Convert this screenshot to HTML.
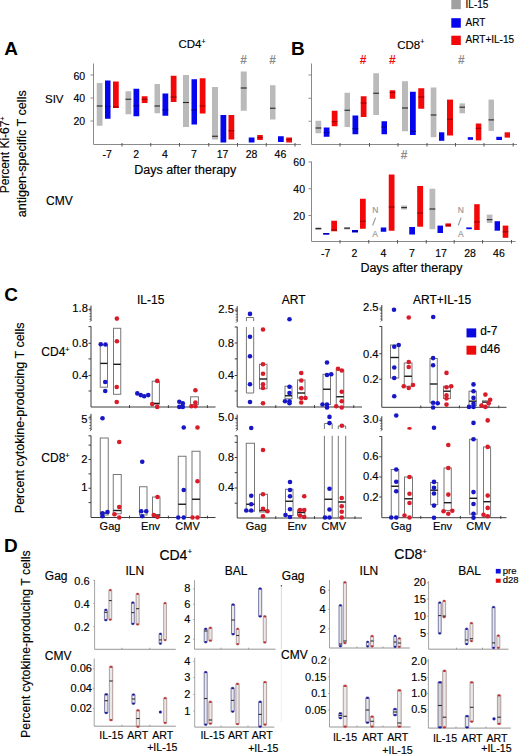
<!DOCTYPE html>
<html><head><meta charset="utf-8"><style>
html,body{margin:0;padding:0;background:#fff;}
body{width:520px;height:754px;overflow:hidden;}
svg{display:block;font-family:"Liberation Sans", sans-serif;}
</style></head><body>
<svg width="520" height="754" viewBox="0 0 520 754">
<text x="4.3" y="54.6" font-size="19" fill="#000" font-weight="bold">A</text>
<text x="290.9" y="54.6" font-size="19" fill="#000" font-weight="bold">B</text>
<text x="4.2" y="301.2" font-size="19" fill="#000" font-weight="bold">C</text>
<text x="4" y="552.2" font-size="19" fill="#000" font-weight="bold">D</text>
<rect x="96.75" y="83" width="5.75" height="42.75" fill="#bababa"/>
<rect x="96.75" y="105.45" width="5.75" height="1.1" fill="#262626"/>
<rect x="105" y="80.5" width="5.5" height="38.25" fill="#0505ee"/>
<rect x="105" y="105.95" width="5.5" height="1.1" fill="#00009a"/>
<rect x="113" y="81.5" width="5.75" height="26.5" fill="#f20808"/>
<rect x="113" y="106.45" width="5.75" height="1.1" fill="#9a0000"/>
<rect x="125.5" y="91.25" width="5.75" height="23" fill="#bababa"/>
<rect x="125.5" y="98.7" width="5.75" height="1.1" fill="#262626"/>
<rect x="133.5" y="88.75" width="5.75" height="27.5" fill="#0505ee"/>
<rect x="133.5" y="105.2" width="5.75" height="1.1" fill="#00009a"/>
<rect x="141.75" y="96.25" width="5.75" height="6.75" fill="#f20808"/>
<rect x="141.75" y="98.7" width="5.75" height="1.1" fill="#9a0000"/>
<rect x="154.5" y="84" width="5.5" height="29.25" fill="#bababa"/>
<rect x="154.5" y="105.45" width="5.5" height="1.1" fill="#262626"/>
<rect x="162.5" y="93.5" width="5.75" height="22.25" fill="#0505ee"/>
<rect x="162.5" y="109.45" width="5.75" height="1.1" fill="#00009a"/>
<rect x="170.75" y="75.75" width="5.75" height="26.25" fill="#f20808"/>
<rect x="170.75" y="96.45" width="5.75" height="1.1" fill="#9a0000"/>
<rect x="183" y="75" width="6" height="52" fill="#bababa"/>
<rect x="183" y="101.95" width="6" height="1.1" fill="#262626"/>
<rect x="191.5" y="79.25" width="5.5" height="45.25" fill="#0505ee"/>
<rect x="191.5" y="109.45" width="5.5" height="1.1" fill="#00009a"/>
<rect x="199.75" y="78.25" width="5.75" height="35.25" fill="#f20808"/>
<rect x="199.75" y="105.45" width="5.75" height="1.1" fill="#9a0000"/>
<rect x="212" y="87" width="6" height="52.5" fill="#bababa"/>
<rect x="212" y="135.7" width="6" height="1.1" fill="#262626"/>
<rect x="220.5" y="115" width="5.75" height="27.5" fill="#0505ee"/>
<rect x="228.5" y="115" width="5.75" height="24.5" fill="#f20808"/>
<rect x="228.5" y="130.2" width="5.75" height="1.1" fill="#9a0000"/>
<rect x="240.75" y="71.5" width="6" height="39.25" fill="#bababa"/>
<rect x="240.75" y="87.45" width="6" height="1.1" fill="#262626"/>
<rect x="248.75" y="137.5" width="5.75" height="5" fill="#0505ee"/>
<rect x="257.25" y="135" width="5.5" height="5" fill="#f20808"/>
<rect x="257.25" y="136.95" width="5.5" height="1.1" fill="#9a0000"/>
<rect x="270" y="85.25" width="5.5" height="34.25" fill="#bababa"/>
<rect x="270" y="107.7" width="5.5" height="1.1" fill="#262626"/>
<rect x="278" y="136.25" width="5.75" height="5.75" fill="#0505ee"/>
<rect x="286.25" y="137.5" width="5.75" height="5" fill="#f20808"/>
<rect x="286.25" y="138.95" width="5.75" height="1.1" fill="#9a0000"/>
<rect x="315.5" y="120.75" width="5.75" height="12.5" fill="#bababa"/>
<rect x="315.5" y="127.45" width="5.75" height="1.1" fill="#262626"/>
<rect x="323.75" y="127.5" width="5.75" height="9.25" fill="#0505ee"/>
<rect x="323.75" y="131.95" width="5.75" height="1.1" fill="#00009a"/>
<rect x="331.75" y="110.75" width="5.75" height="15.5" fill="#f20808"/>
<rect x="331.75" y="121.2" width="5.75" height="1.1" fill="#9a0000"/>
<rect x="344.5" y="92.75" width="5.5" height="34.25" fill="#bababa"/>
<rect x="344.5" y="109.7" width="5.5" height="1.1" fill="#262626"/>
<rect x="352.5" y="115.5" width="5.75" height="18.75" fill="#0505ee"/>
<rect x="352.5" y="128.2" width="5.75" height="1.1" fill="#00009a"/>
<rect x="360.75" y="96.25" width="5.75" height="20.75" fill="#f20808"/>
<rect x="360.75" y="102.45" width="5.75" height="1.1" fill="#9a0000"/>
<rect x="373.25" y="73.25" width="5.75" height="41.75" fill="#bababa"/>
<rect x="373.25" y="92.7" width="5.75" height="1.1" fill="#262626"/>
<rect x="381.5" y="121.25" width="5.5" height="13" fill="#0505ee"/>
<rect x="381.5" y="126.45" width="5.5" height="1.1" fill="#00009a"/>
<rect x="389.75" y="90.25" width="5.5" height="8.5" fill="#f20808"/>
<rect x="389.75" y="91.95" width="5.5" height="1.1" fill="#9a0000"/>
<rect x="402" y="81.25" width="6" height="50" fill="#bababa"/>
<rect x="402" y="107.45" width="6" height="1.1" fill="#262626"/>
<rect x="410" y="91.75" width="5.75" height="43.25" fill="#0505ee"/>
<rect x="410" y="130.7" width="5.75" height="1.1" fill="#00009a"/>
<rect x="418.25" y="88.25" width="6" height="20.5" fill="#f20808"/>
<rect x="418.25" y="96.45" width="6" height="1.1" fill="#9a0000"/>
<rect x="430.7" y="87.5" width="5.7" height="49.7" fill="#bababa"/>
<rect x="430.7" y="114.45" width="5.7" height="1.1" fill="#262626"/>
<rect x="439" y="132.3" width="5.3" height="8.5" fill="#0505ee"/>
<rect x="447" y="99.6" width="6" height="35.9" fill="#f20808"/>
<rect x="447" y="118.65" width="6" height="1.1" fill="#9a0000"/>
<rect x="459.5" y="103.4" width="5.5" height="9.9" fill="#bababa"/>
<rect x="459.5" y="106.65" width="5.5" height="1.1" fill="#262626"/>
<rect x="467.8" y="137.2" width="5.2" height="2.6" fill="#0505ee"/>
<rect x="475.8" y="123.5" width="5.5" height="16.9" fill="#f20808"/>
<rect x="475.8" y="127.75" width="5.5" height="1.1" fill="#9a0000"/>
<rect x="488.5" y="99.6" width="5.5" height="31.3" fill="#bababa"/>
<rect x="488.5" y="119.35" width="5.5" height="1.1" fill="#262626"/>
<rect x="496.3" y="136.8" width="5.7" height="3.2" fill="#0505ee"/>
<rect x="504.6" y="132.3" width="5.4" height="5.3" fill="#f20808"/>
<rect x="315.5" y="227.3" width="5.75" height="2.7" fill="#bababa"/>
<rect x="315.5" y="228.05" width="5.75" height="1.1" fill="#262626"/>
<rect x="323.25" y="233" width="6" height="1.6" fill="#0505ee"/>
<rect x="323.25" y="233.25" width="6" height="1.1" fill="#00009a"/>
<rect x="331.25" y="220.75" width="5.75" height="10.5" fill="#f20808"/>
<rect x="331.25" y="229.45" width="5.75" height="1.1" fill="#9a0000"/>
<rect x="344.25" y="227" width="5.75" height="2.5" fill="#bababa"/>
<rect x="344.25" y="227.65" width="5.75" height="1.1" fill="#262626"/>
<rect x="352" y="230" width="6" height="2.5" fill="#0505ee"/>
<rect x="352" y="230.75" width="6" height="1.1" fill="#00009a"/>
<rect x="360" y="198.75" width="5.75" height="30" fill="#f20808"/>
<rect x="360" y="220.7" width="5.75" height="1.1" fill="#9a0000"/>
<rect x="380.75" y="227.5" width="5.5" height="4.25" fill="#0505ee"/>
<rect x="388.75" y="174.5" width="5.75" height="56.25" fill="#f20808"/>
<rect x="388.75" y="206.45" width="5.75" height="1.1" fill="#9a0000"/>
<rect x="401.25" y="205.5" width="5.75" height="4" fill="#bababa"/>
<rect x="401.25" y="207.05" width="5.75" height="1.1" fill="#262626"/>
<rect x="409.25" y="227" width="5.75" height="7.5" fill="#0505ee"/>
<rect x="417.2" y="186" width="5.9" height="40.7" fill="#f20808"/>
<rect x="417.2" y="212.45" width="5.9" height="1.1" fill="#9a0000"/>
<rect x="429.5" y="188.7" width="5.8" height="40.5" fill="#bababa"/>
<rect x="429.5" y="208.45" width="5.8" height="1.1" fill="#262626"/>
<rect x="437.5" y="225.6" width="5.5" height="7.4" fill="#0505ee"/>
<rect x="445.5" y="223.4" width="5.5" height="3.3" fill="#f20808"/>
<rect x="445.5" y="224.65" width="5.5" height="1.1" fill="#9a0000"/>
<rect x="466.3" y="227.4" width="5.5" height="1.8" fill="#0505ee"/>
<rect x="474.2" y="204.2" width="5.5" height="25.8" fill="#f20808"/>
<rect x="474.2" y="221.35" width="5.5" height="1.1" fill="#9a0000"/>
<rect x="486.8" y="214.6" width="5.6" height="8.4" fill="#bababa"/>
<rect x="486.8" y="219.15" width="5.6" height="1.1" fill="#262626"/>
<rect x="494.6" y="221.2" width="5.4" height="9.5" fill="#0505ee"/>
<rect x="502.7" y="225.6" width="5.6" height="12.2" fill="#f20808"/>
<rect x="502.7" y="231.25" width="5.6" height="1.1" fill="#9a0000"/>
<line x1="93.5" y1="63.5" x2="93.5" y2="144.5" stroke="#8a8a8a" stroke-width="1"/>
<line x1="93.5" y1="144.5" x2="301" y2="144.5" stroke="#8a8a8a" stroke-width="1"/>
<line x1="90.5" y1="75" x2="93.5" y2="75" stroke="#8a8a8a" stroke-width="1"/>
<line x1="90.5" y1="98" x2="93.5" y2="98" stroke="#8a8a8a" stroke-width="1"/>
<line x1="90.5" y1="121" x2="93.5" y2="121" stroke="#8a8a8a" stroke-width="1"/>
<line x1="122" y1="143" x2="122" y2="146.5" stroke="#555" stroke-width="1"/>
<line x1="150.75" y1="143" x2="150.75" y2="146.5" stroke="#555" stroke-width="1"/>
<line x1="179.5" y1="143" x2="179.5" y2="146.5" stroke="#555" stroke-width="1"/>
<line x1="208.75" y1="143" x2="208.75" y2="146.5" stroke="#555" stroke-width="1"/>
<line x1="237.5" y1="143" x2="237.5" y2="146.5" stroke="#555" stroke-width="1"/>
<line x1="266.25" y1="143" x2="266.25" y2="146.5" stroke="#555" stroke-width="1"/>
<line x1="295" y1="143" x2="295" y2="146.5" stroke="#555" stroke-width="1"/>
<line x1="311.5" y1="63.5" x2="311.5" y2="144.5" stroke="#8a8a8a" stroke-width="1"/>
<line x1="311.5" y1="144.5" x2="517" y2="144.5" stroke="#8a8a8a" stroke-width="1"/>
<line x1="308.5" y1="75" x2="311.5" y2="75" stroke="#8a8a8a" stroke-width="1"/>
<line x1="308.5" y1="98.25" x2="311.5" y2="98.25" stroke="#8a8a8a" stroke-width="1"/>
<line x1="308.5" y1="121.25" x2="311.5" y2="121.25" stroke="#8a8a8a" stroke-width="1"/>
<line x1="340" y1="143" x2="340" y2="146.5" stroke="#555" stroke-width="1"/>
<line x1="369.5" y1="143" x2="369.5" y2="146.5" stroke="#555" stroke-width="1"/>
<line x1="398" y1="143" x2="398" y2="146.5" stroke="#555" stroke-width="1"/>
<line x1="427" y1="143" x2="427" y2="146.5" stroke="#555" stroke-width="1"/>
<line x1="455.5" y1="143" x2="455.5" y2="146.5" stroke="#555" stroke-width="1"/>
<line x1="484" y1="143" x2="484" y2="146.5" stroke="#555" stroke-width="1"/>
<line x1="513.2" y1="143" x2="513.2" y2="146.5" stroke="#555" stroke-width="1"/>
<line x1="311.5" y1="161.5" x2="311.5" y2="241.5" stroke="#8a8a8a" stroke-width="1"/>
<line x1="311.5" y1="241.5" x2="515.5" y2="241.5" stroke="#8a8a8a" stroke-width="1"/>
<line x1="308.5" y1="162" x2="311.5" y2="162" stroke="#8a8a8a" stroke-width="1"/>
<line x1="308.5" y1="188.75" x2="311.5" y2="188.75" stroke="#8a8a8a" stroke-width="1"/>
<line x1="308.5" y1="215.5" x2="311.5" y2="215.5" stroke="#8a8a8a" stroke-width="1"/>
<line x1="340" y1="240" x2="340" y2="243.5" stroke="#555" stroke-width="1"/>
<line x1="368.75" y1="240" x2="368.75" y2="243.5" stroke="#555" stroke-width="1"/>
<line x1="397.5" y1="240" x2="397.5" y2="243.5" stroke="#555" stroke-width="1"/>
<line x1="426.25" y1="240" x2="426.25" y2="243.5" stroke="#555" stroke-width="1"/>
<line x1="454.2" y1="240" x2="454.2" y2="243.5" stroke="#555" stroke-width="1"/>
<line x1="482.6" y1="240" x2="482.6" y2="243.5" stroke="#555" stroke-width="1"/>
<line x1="511.5" y1="240" x2="511.5" y2="243.5" stroke="#555" stroke-width="1"/>
<text x="85.2" y="79.6" font-size="10.5" fill="#000" stroke="#000" stroke-width="0.15" text-anchor="end">60</text>
<text x="85.2" y="102.3" font-size="10.5" fill="#000" stroke="#000" stroke-width="0.15" text-anchor="end">40</text>
<text x="85.2" y="125" font-size="10.5" fill="#000" stroke="#000" stroke-width="0.15" text-anchor="end">20</text>
<text x="305" y="166.3" font-size="10.5" fill="#000" stroke="#000" stroke-width="0.15" text-anchor="end">60</text>
<text x="305" y="193" font-size="10.5" fill="#000" stroke="#000" stroke-width="0.15" text-anchor="end">40</text>
<text x="305" y="219.6" font-size="10.5" fill="#000" stroke="#000" stroke-width="0.15" text-anchor="end">20</text>
<text x="107.2" y="157.6" font-size="10.5" fill="#000" stroke="#000" stroke-width="0.15" text-anchor="middle">-7</text>
<text x="136.2" y="157.6" font-size="10.5" fill="#000" stroke="#000" stroke-width="0.15" text-anchor="middle">2</text>
<text x="165" y="157.6" font-size="10.5" fill="#000" stroke="#000" stroke-width="0.15" text-anchor="middle">4</text>
<text x="193.8" y="157.6" font-size="10.5" fill="#000" stroke="#000" stroke-width="0.15" text-anchor="middle">7</text>
<text x="222.6" y="157.6" font-size="10.5" fill="#000" stroke="#000" stroke-width="0.15" text-anchor="middle">17</text>
<text x="251.6" y="157.6" font-size="10.5" fill="#000" stroke="#000" stroke-width="0.15" text-anchor="middle">28</text>
<text x="280.4" y="157.6" font-size="10.5" fill="#000" stroke="#000" stroke-width="0.15" text-anchor="middle">46</text>
<text x="325.6" y="256.8" font-size="10.5" fill="#000" stroke="#000" stroke-width="0.15" text-anchor="middle">-7</text>
<text x="354.4" y="256.8" font-size="10.5" fill="#000" stroke="#000" stroke-width="0.15" text-anchor="middle">2</text>
<text x="383.4" y="256.8" font-size="10.5" fill="#000" stroke="#000" stroke-width="0.15" text-anchor="middle">4</text>
<text x="411.9" y="256.8" font-size="10.5" fill="#000" stroke="#000" stroke-width="0.15" text-anchor="middle">7</text>
<text x="441" y="256.8" font-size="10.5" fill="#000" stroke="#000" stroke-width="0.15" text-anchor="middle">17</text>
<text x="470" y="256.8" font-size="10.5" fill="#000" stroke="#000" stroke-width="0.15" text-anchor="middle">28</text>
<text x="498.9" y="256.8" font-size="10.5" fill="#000" stroke="#000" stroke-width="0.15" text-anchor="middle">46</text>
<text x="134.2" y="173.8" font-size="12.5" fill="#000" stroke="#000" stroke-width="0.15">Days after therapy</text>
<text x="360.4" y="271.8" font-size="12.5" fill="#000" stroke="#000" stroke-width="0.15">Days after therapy</text>
<text x="178.4" y="48.1" font-size="11.5" fill="#000" stroke="#000" stroke-width="0.15">CD4<tspan font-size="7" dy="-4.2">+</tspan></text>
<text x="397.2" y="48.5" font-size="11.5" fill="#000" stroke="#000" stroke-width="0.15">CD8<tspan font-size="7" dy="-4.2">+</tspan></text>
<text x="45" y="102.7" font-size="11.5" fill="#000" stroke="#000" stroke-width="0.15">SIV</text>
<text x="46" y="204.6" font-size="12" fill="#000" stroke="#000" stroke-width="0.15">CMV</text>
<text x="243.6" y="63.6" font-size="12" fill="#8a8a8a" text-anchor="middle" font-weight="bold">#</text>
<text x="272.7" y="63.6" font-size="12" fill="#8a8a8a" text-anchor="middle" font-weight="bold">#</text>
<text x="363" y="63.5" font-size="12" fill="#f20808" text-anchor="middle" font-weight="bold">#</text>
<text x="392.3" y="63.5" font-size="12" fill="#f20808" text-anchor="middle" font-weight="bold">#</text>
<text x="461.3" y="63.5" font-size="12" fill="#8a8a8a" text-anchor="middle" font-weight="bold">#</text>
<text x="404.2" y="159.4" font-size="12" fill="#8a8a8a" text-anchor="middle" font-weight="bold">#</text>
<text x="375.2" y="212.6" font-size="8.5" fill="#969696" stroke="#969696" stroke-width="0.15" text-anchor="middle">N</text>
<line x1="375.6" y1="217.6" x2="372.6" y2="225.5" stroke="#969696" stroke-width="1.1"/>
<text x="375.2" y="236.6" font-size="8.5" fill="#969696" stroke="#969696" stroke-width="0.15" text-anchor="middle">A</text>
<text x="460.8" y="212.6" font-size="8.5" fill="#969696" stroke="#969696" stroke-width="0.15" text-anchor="middle">N</text>
<line x1="461.2" y1="217.6" x2="458.2" y2="225.5" stroke="#969696" stroke-width="1.1"/>
<text x="460.8" y="236.6" font-size="8.5" fill="#969696" stroke="#969696" stroke-width="0.15" text-anchor="middle">A</text>
<text transform="translate(9.2,193.3) rotate(-90)" font-size="12" fill="#000" stroke="#000" stroke-width="0.15">Percent Ki-67<tspan font-size="7" dy="-4.5">+</tspan></text>
<text transform="translate(25.8,217.2) rotate(-90)" font-size="12.6" fill="#000" stroke="#000" stroke-width="0.15">antigen-specific T cells</text>
<rect x="451.3" y="-1" width="9.5" height="10.2" fill="#a0a0a0"/>
<rect x="451.3" y="18.2" width="9.5" height="9.5" fill="#0505ee"/>
<rect x="451.3" y="35.7" width="9.5" height="9.3" fill="#f20808"/>
<text x="465.6" y="7.8" font-size="10" fill="#000" stroke="#000" stroke-width="0.15">IL-15</text>
<text x="465.6" y="25.5" font-size="10" fill="#000" stroke="#000" stroke-width="0.15">ART</text>
<text x="465.6" y="42.9" font-size="10" fill="#000" stroke="#000" stroke-width="0.15">ART+IL-15</text>
<line x1="91" y1="305.6" x2="91" y2="320.7" stroke="#3c3c3c" stroke-width="1"/>
<line x1="89.4" y1="308.1" x2="91" y2="308.1" stroke="#3c3c3c" stroke-width="0.7"/>
<line x1="89.4" y1="310.88" x2="91" y2="310.88" stroke="#3c3c3c" stroke-width="0.7"/>
<line x1="89.4" y1="313.65" x2="91" y2="313.65" stroke="#3c3c3c" stroke-width="0.7"/>
<line x1="89.4" y1="316.43" x2="91" y2="316.43" stroke="#3c3c3c" stroke-width="0.7"/>
<line x1="89.4" y1="319.2" x2="91" y2="319.2" stroke="#3c3c3c" stroke-width="0.7"/>
<line x1="89.8" y1="321.9" x2="91.6" y2="320.1" stroke="#3c3c3c" stroke-width="0.7"/>
<line x1="88.5" y1="309.6" x2="91" y2="309.6" stroke="#3c3c3c" stroke-width="1"/>
<line x1="91" y1="326.3" x2="91" y2="407" stroke="#3c3c3c" stroke-width="1"/>
<line x1="88.5" y1="326.6" x2="91" y2="326.6" stroke="#3c3c3c" stroke-width="1"/>
<line x1="91" y1="407" x2="215.5" y2="407" stroke="#3c3c3c" stroke-width="1"/>
<line x1="88.5" y1="343.3" x2="91" y2="343.3" stroke="#3c3c3c" stroke-width="1"/>
<line x1="88.5" y1="358.9" x2="91" y2="358.9" stroke="#3c3c3c" stroke-width="1"/>
<line x1="88.5" y1="375.6" x2="91" y2="375.6" stroke="#3c3c3c" stroke-width="1"/>
<line x1="88.5" y1="391" x2="91" y2="391" stroke="#3c3c3c" stroke-width="1"/>
<line x1="129.5" y1="405.2" x2="129.5" y2="408" stroke="#3c3c3c" stroke-width="1"/>
<line x1="168.4" y1="405.2" x2="168.4" y2="408" stroke="#3c3c3c" stroke-width="1"/>
<line x1="207.4" y1="405.2" x2="207.4" y2="408" stroke="#3c3c3c" stroke-width="1"/>
<text x="87.9" y="312" font-size="11.2" fill="#000" stroke="#000" stroke-width="0.15" text-anchor="end">1.8</text>
<text x="87.9" y="347" font-size="11.2" fill="#000" stroke="#000" stroke-width="0.15" text-anchor="end">0.8</text>
<text x="87.9" y="379.3" font-size="11.2" fill="#000" stroke="#000" stroke-width="0.15" text-anchor="end">0.4</text>
<rect x="100.25" y="345" width="7.25" height="42.2" fill="none" stroke="#777777" stroke-width="1"/>
<line x1="100.25" y1="363.4" x2="107.5" y2="363.4" stroke="#1a1a1a" stroke-width="1.4"/>
<circle cx="100.75" cy="344.25" r="2.3" fill="#1717c6"/>
<circle cx="105.5" cy="344.5" r="2.3" fill="#1717c6"/>
<circle cx="105.25" cy="382" r="2.3" fill="#1717c6"/>
<circle cx="105.25" cy="391" r="2.3" fill="#1717c6"/>
<rect x="113.5" y="328.3" width="7.25" height="66" fill="none" stroke="#777777" stroke-width="1"/>
<line x1="113.5" y1="364.3" x2="120.75" y2="364.3" stroke="#1a1a1a" stroke-width="1.4"/>
<circle cx="116.9" cy="318.6" r="2.3" fill="#d81c2a"/>
<circle cx="116.9" cy="341.3" r="2.3" fill="#d81c2a"/>
<circle cx="116.75" cy="387" r="2.3" fill="#d81c2a"/>
<circle cx="116.75" cy="402" r="2.3" fill="#d81c2a"/>
<circle cx="137.3" cy="393.4" r="2.3" fill="#1717c6"/>
<circle cx="140.7" cy="395.1" r="2.3" fill="#1717c6"/>
<circle cx="144.2" cy="396.3" r="2.3" fill="#1717c6"/>
<circle cx="148.2" cy="395.1" r="2.3" fill="#1717c6"/>
<rect x="152.2" y="381.2" width="7.2" height="22.9" fill="none" stroke="#777777" stroke-width="1"/>
<line x1="152.2" y1="403.4" x2="159.4" y2="403.4" stroke="#1a1a1a" stroke-width="1.4"/>
<circle cx="157.2" cy="380.9" r="2.3" fill="#d81c2a"/>
<circle cx="152.2" cy="404.1" r="2.3" fill="#d81c2a"/>
<circle cx="157.2" cy="406.9" r="2.3" fill="#d81c2a"/>
<circle cx="179.3" cy="401.7" r="2.3" fill="#1717c6"/>
<circle cx="182.8" cy="403.4" r="2.3" fill="#1717c6"/>
<circle cx="179.3" cy="406.9" r="2.3" fill="#1717c6"/>
<circle cx="182.8" cy="406.9" r="2.3" fill="#1717c6"/>
<rect x="190.6" y="396.8" width="7.8" height="7.8" fill="none" stroke="#777777" stroke-width="1"/>
<circle cx="195.4" cy="390.2" r="2.3" fill="#d81c2a"/>
<circle cx="195.4" cy="402.5" r="2.3" fill="#d81c2a"/>
<circle cx="191.4" cy="406.3" r="2.3" fill="#d81c2a"/>
<circle cx="195.4" cy="406.3" r="2.3" fill="#d81c2a"/>
<line x1="91" y1="413.8" x2="91" y2="430" stroke="#3c3c3c" stroke-width="1"/>
<line x1="89.4" y1="416.3" x2="91" y2="416.3" stroke="#3c3c3c" stroke-width="0.7"/>
<line x1="89.4" y1="419.35" x2="91" y2="419.35" stroke="#3c3c3c" stroke-width="0.7"/>
<line x1="89.4" y1="422.4" x2="91" y2="422.4" stroke="#3c3c3c" stroke-width="0.7"/>
<line x1="89.4" y1="425.45" x2="91" y2="425.45" stroke="#3c3c3c" stroke-width="0.7"/>
<line x1="89.4" y1="428.5" x2="91" y2="428.5" stroke="#3c3c3c" stroke-width="0.7"/>
<line x1="89.8" y1="431.2" x2="91.6" y2="429.4" stroke="#3c3c3c" stroke-width="0.7"/>
<line x1="88.5" y1="417.8" x2="91" y2="417.8" stroke="#3c3c3c" stroke-width="1"/>
<line x1="91" y1="435.5" x2="91" y2="517.5" stroke="#3c3c3c" stroke-width="1"/>
<line x1="88.5" y1="435.8" x2="91" y2="435.8" stroke="#3c3c3c" stroke-width="1"/>
<line x1="91" y1="517.5" x2="215.5" y2="517.5" stroke="#3c3c3c" stroke-width="1"/>
<line x1="88.5" y1="445.1" x2="91" y2="445.1" stroke="#3c3c3c" stroke-width="1"/>
<line x1="88.5" y1="459.5" x2="91" y2="459.5" stroke="#3c3c3c" stroke-width="1"/>
<line x1="88.5" y1="473.9" x2="91" y2="473.9" stroke="#3c3c3c" stroke-width="1"/>
<line x1="88.5" y1="488.25" x2="91" y2="488.25" stroke="#3c3c3c" stroke-width="1"/>
<line x1="88.5" y1="502.6" x2="91" y2="502.6" stroke="#3c3c3c" stroke-width="1"/>
<line x1="129.5" y1="515.7" x2="129.5" y2="518.5" stroke="#3c3c3c" stroke-width="1"/>
<line x1="168.4" y1="515.7" x2="168.4" y2="518.5" stroke="#3c3c3c" stroke-width="1"/>
<line x1="207.4" y1="515.7" x2="207.4" y2="518.5" stroke="#3c3c3c" stroke-width="1"/>
<text x="87.6" y="422.6" font-size="11.2" fill="#000" stroke="#000" stroke-width="0.15" text-anchor="end">5</text>
<text x="87.6" y="462.5" font-size="11.2" fill="#000" stroke="#000" stroke-width="0.15" text-anchor="end">2</text>
<text x="87.6" y="491.3" font-size="11.2" fill="#000" stroke="#000" stroke-width="0.15" text-anchor="end">1</text>
<rect x="100.25" y="438" width="8" height="77" fill="none" stroke="#777777" stroke-width="1"/>
<line x1="100.25" y1="513" x2="108.25" y2="513" stroke="#1a1a1a" stroke-width="1.4"/>
<circle cx="102.5" cy="418.25" r="2.3" fill="#1717c6"/>
<circle cx="102.5" cy="513.25" r="2.3" fill="#1717c6"/>
<circle cx="107.5" cy="512" r="2.3" fill="#1717c6"/>
<circle cx="102.5" cy="516.25" r="2.3" fill="#1717c6"/>
<rect x="113.25" y="474.5" width="8" height="39.25" fill="none" stroke="#777777" stroke-width="1"/>
<line x1="113.25" y1="510.5" x2="121.25" y2="510.5" stroke="#1a1a1a" stroke-width="1.4"/>
<circle cx="119.25" cy="442" r="2.3" fill="#d81c2a"/>
<circle cx="114.5" cy="514.25" r="2.3" fill="#d81c2a"/>
<circle cx="119.25" cy="507" r="2.3" fill="#d81c2a"/>
<circle cx="119.25" cy="517.5" r="2.3" fill="#d81c2a"/>
<rect x="139.5" y="486.75" width="7.5" height="28.25" fill="none" stroke="#777777" stroke-width="1"/>
<circle cx="142.25" cy="461.75" r="2.3" fill="#1717c6"/>
<circle cx="141.25" cy="511.25" r="2.3" fill="#1717c6"/>
<circle cx="146.25" cy="511.25" r="2.3" fill="#1717c6"/>
<circle cx="142.25" cy="516.25" r="2.3" fill="#1717c6"/>
<rect x="152.5" y="497" width="7.5" height="19.25" fill="none" stroke="#777777" stroke-width="1"/>
<line x1="152.5" y1="515" x2="160" y2="515" stroke="#1a1a1a" stroke-width="1.4"/>
<circle cx="157.5" cy="497" r="2.3" fill="#d81c2a"/>
<circle cx="153.75" cy="515" r="2.3" fill="#d81c2a"/>
<circle cx="157.5" cy="517" r="2.3" fill="#d81c2a"/>
<rect x="178.25" y="456.25" width="7.75" height="61.25" fill="none" stroke="#777777" stroke-width="1"/>
<line x1="178.25" y1="504.25" x2="186" y2="504.25" stroke="#1a1a1a" stroke-width="1.4"/>
<circle cx="183.75" cy="427.5" r="2.3" fill="#1717c6"/>
<circle cx="183.75" cy="490" r="2.3" fill="#1717c6"/>
<circle cx="178.25" cy="517.5" r="2.3" fill="#1717c6"/>
<circle cx="183.75" cy="517.5" r="2.3" fill="#1717c6"/>
<rect x="192" y="451.25" width="8" height="66.25" fill="none" stroke="#777777" stroke-width="1"/>
<line x1="192" y1="499.25" x2="200" y2="499.25" stroke="#1a1a1a" stroke-width="1.4"/>
<circle cx="197.5" cy="427.5" r="2.3" fill="#d81c2a"/>
<circle cx="197.5" cy="481.25" r="2.3" fill="#d81c2a"/>
<circle cx="192.5" cy="517.5" r="2.3" fill="#d81c2a"/>
<circle cx="197.5" cy="517.5" r="2.3" fill="#d81c2a"/>
<line x1="237.2" y1="306.2" x2="237.2" y2="321.5" stroke="#3c3c3c" stroke-width="1"/>
<line x1="235.6" y1="308.7" x2="237.2" y2="308.7" stroke="#3c3c3c" stroke-width="0.7"/>
<line x1="235.6" y1="311.52" x2="237.2" y2="311.52" stroke="#3c3c3c" stroke-width="0.7"/>
<line x1="235.6" y1="314.35" x2="237.2" y2="314.35" stroke="#3c3c3c" stroke-width="0.7"/>
<line x1="235.6" y1="317.18" x2="237.2" y2="317.18" stroke="#3c3c3c" stroke-width="0.7"/>
<line x1="235.6" y1="320" x2="237.2" y2="320" stroke="#3c3c3c" stroke-width="0.7"/>
<line x1="236" y1="322.7" x2="237.8" y2="320.9" stroke="#3c3c3c" stroke-width="0.7"/>
<line x1="234.7" y1="310.2" x2="237.2" y2="310.2" stroke="#3c3c3c" stroke-width="1"/>
<line x1="237.2" y1="326.7" x2="237.2" y2="407" stroke="#3c3c3c" stroke-width="1"/>
<line x1="234.7" y1="327" x2="237.2" y2="327" stroke="#3c3c3c" stroke-width="1"/>
<line x1="237.2" y1="407" x2="362" y2="407" stroke="#3c3c3c" stroke-width="1"/>
<line x1="234.7" y1="343" x2="237.2" y2="343" stroke="#3c3c3c" stroke-width="1"/>
<line x1="234.7" y1="358.9" x2="237.2" y2="358.9" stroke="#3c3c3c" stroke-width="1"/>
<line x1="234.7" y1="375.5" x2="237.2" y2="375.5" stroke="#3c3c3c" stroke-width="1"/>
<line x1="234.7" y1="391" x2="237.2" y2="391" stroke="#3c3c3c" stroke-width="1"/>
<line x1="275.75" y1="405.2" x2="275.75" y2="408" stroke="#3c3c3c" stroke-width="1"/>
<line x1="314.5" y1="405.2" x2="314.5" y2="408" stroke="#3c3c3c" stroke-width="1"/>
<line x1="353.75" y1="405.2" x2="353.75" y2="408" stroke="#3c3c3c" stroke-width="1"/>
<text x="233.9" y="312.5" font-size="11.2" fill="#000" stroke="#000" stroke-width="0.15" text-anchor="end">2.5</text>
<text x="233.9" y="347" font-size="11.2" fill="#000" stroke="#000" stroke-width="0.15" text-anchor="end">0.8</text>
<text x="233.9" y="378.8" font-size="11.2" fill="#000" stroke="#000" stroke-width="0.15" text-anchor="end">0.4</text>
<path d="M246.4,321.2 V317.5 H253.7 V321.2" fill="none" stroke="#777777" stroke-width="1"/>
<path d="M246.4,327 V393 H253.7 V327" fill="none" stroke="#777777" stroke-width="1"/>
<circle cx="250" cy="313.9" r="2.3" fill="#1717c6"/>
<circle cx="250" cy="336.75" r="2.3" fill="#1717c6"/>
<circle cx="250" cy="356.25" r="2.3" fill="#1717c6"/>
<circle cx="250" cy="384.25" r="2.3" fill="#1717c6"/>
<circle cx="250" cy="402" r="2.3" fill="#1717c6"/>
<rect x="259.5" y="364.25" width="7.5" height="24.5" fill="none" stroke="#777777" stroke-width="1"/>
<line x1="259.5" y1="379" x2="267" y2="379" stroke="#1a1a1a" stroke-width="1.4"/>
<circle cx="263" cy="329.5" r="2.3" fill="#d81c2a"/>
<circle cx="263" cy="364.25" r="2.3" fill="#d81c2a"/>
<circle cx="263" cy="373.75" r="2.3" fill="#d81c2a"/>
<circle cx="263" cy="384.25" r="2.3" fill="#d81c2a"/>
<circle cx="263" cy="388" r="2.3" fill="#d81c2a"/>
<circle cx="263" cy="403.25" r="2.3" fill="#d81c2a"/>
<rect x="285" y="386.25" width="7" height="12.5" fill="none" stroke="#777777" stroke-width="1"/>
<line x1="285" y1="395.75" x2="292" y2="395.75" stroke="#1a1a1a" stroke-width="1.4"/>
<circle cx="289.5" cy="319.25" r="2.3" fill="#1717c6"/>
<circle cx="289.5" cy="386.75" r="2.3" fill="#1717c6"/>
<circle cx="289.5" cy="393" r="2.3" fill="#1717c6"/>
<circle cx="285" cy="401.25" r="2.3" fill="#1717c6"/>
<circle cx="289.5" cy="401.25" r="2.3" fill="#1717c6"/>
<circle cx="289.5" cy="403.25" r="2.3" fill="#1717c6"/>
<rect x="297.5" y="380" width="7.5" height="18" fill="none" stroke="#777777" stroke-width="1"/>
<line x1="297.5" y1="393" x2="305" y2="393" stroke="#1a1a1a" stroke-width="1.4"/>
<circle cx="301.25" cy="373" r="2.3" fill="#d81c2a"/>
<circle cx="301.25" cy="380.5" r="2.3" fill="#d81c2a"/>
<circle cx="301.25" cy="388.25" r="2.3" fill="#d81c2a"/>
<circle cx="301.25" cy="398" r="2.3" fill="#d81c2a"/>
<circle cx="305.5" cy="398" r="2.3" fill="#d81c2a"/>
<circle cx="301.25" cy="402.5" r="2.3" fill="#d81c2a"/>
<rect x="323" y="374.25" width="7.5" height="30.25" fill="none" stroke="#777777" stroke-width="1"/>
<line x1="323" y1="389.25" x2="330.5" y2="389.25" stroke="#1a1a1a" stroke-width="1.4"/>
<circle cx="327" cy="362.5" r="2.3" fill="#1717c6"/>
<circle cx="327" cy="375" r="2.3" fill="#1717c6"/>
<circle cx="331.25" cy="374.25" r="2.3" fill="#1717c6"/>
<circle cx="322.5" cy="404.5" r="2.3" fill="#1717c6"/>
<circle cx="327" cy="404.5" r="2.3" fill="#1717c6"/>
<circle cx="327" cy="407.5" r="2.3" fill="#1717c6"/>
<rect x="336.25" y="370" width="7.5" height="36.75" fill="none" stroke="#777777" stroke-width="1"/>
<line x1="336.25" y1="396.75" x2="343.75" y2="396.75" stroke="#1a1a1a" stroke-width="1.4"/>
<circle cx="338" cy="368.75" r="2.3" fill="#d81c2a"/>
<circle cx="341.75" cy="370.5" r="2.3" fill="#d81c2a"/>
<circle cx="341.75" cy="391.75" r="2.3" fill="#d81c2a"/>
<circle cx="341.75" cy="401.25" r="2.3" fill="#d81c2a"/>
<circle cx="336.25" cy="406.25" r="2.3" fill="#d81c2a"/>
<circle cx="341.75" cy="407.5" r="2.3" fill="#d81c2a"/>
<line x1="237.2" y1="414.5" x2="237.2" y2="430" stroke="#3c3c3c" stroke-width="1"/>
<line x1="235.6" y1="417" x2="237.2" y2="417" stroke="#3c3c3c" stroke-width="0.7"/>
<line x1="235.6" y1="419.88" x2="237.2" y2="419.88" stroke="#3c3c3c" stroke-width="0.7"/>
<line x1="235.6" y1="422.75" x2="237.2" y2="422.75" stroke="#3c3c3c" stroke-width="0.7"/>
<line x1="235.6" y1="425.62" x2="237.2" y2="425.62" stroke="#3c3c3c" stroke-width="0.7"/>
<line x1="235.6" y1="428.5" x2="237.2" y2="428.5" stroke="#3c3c3c" stroke-width="0.7"/>
<line x1="236" y1="431.2" x2="237.8" y2="429.4" stroke="#3c3c3c" stroke-width="0.7"/>
<line x1="234.7" y1="418.5" x2="237.2" y2="418.5" stroke="#3c3c3c" stroke-width="1"/>
<line x1="237.2" y1="435.5" x2="237.2" y2="518" stroke="#3c3c3c" stroke-width="1"/>
<line x1="234.7" y1="435.8" x2="237.2" y2="435.8" stroke="#3c3c3c" stroke-width="1"/>
<line x1="237.2" y1="518" x2="362" y2="518" stroke="#3c3c3c" stroke-width="1"/>
<line x1="234.7" y1="442.3" x2="237.2" y2="442.3" stroke="#3c3c3c" stroke-width="1"/>
<line x1="234.7" y1="457.5" x2="237.2" y2="457.5" stroke="#3c3c3c" stroke-width="1"/>
<line x1="234.7" y1="472.7" x2="237.2" y2="472.7" stroke="#3c3c3c" stroke-width="1"/>
<line x1="234.7" y1="488" x2="237.2" y2="488" stroke="#3c3c3c" stroke-width="1"/>
<line x1="234.7" y1="503.2" x2="237.2" y2="503.2" stroke="#3c3c3c" stroke-width="1"/>
<line x1="275.75" y1="516.2" x2="275.75" y2="519" stroke="#3c3c3c" stroke-width="1"/>
<line x1="314.5" y1="516.2" x2="314.5" y2="519" stroke="#3c3c3c" stroke-width="1"/>
<line x1="355" y1="516.2" x2="355" y2="519" stroke="#3c3c3c" stroke-width="1"/>
<text x="233.9" y="421.3" font-size="11.2" fill="#000" stroke="#000" stroke-width="0.15" text-anchor="end">5.0</text>
<text x="233.9" y="461" font-size="11.2" fill="#000" stroke="#000" stroke-width="0.15" text-anchor="end">0.8</text>
<text x="233.9" y="491.3" font-size="11.2" fill="#000" stroke="#000" stroke-width="0.15" text-anchor="end">0.4</text>
<rect x="246.25" y="443.25" width="8.25" height="68" fill="none" stroke="#777777" stroke-width="1"/>
<line x1="246.25" y1="504.25" x2="254.5" y2="504.25" stroke="#1a1a1a" stroke-width="1.4"/>
<circle cx="251.25" cy="428" r="2.3" fill="#1717c6"/>
<circle cx="251.25" cy="495.75" r="2.3" fill="#1717c6"/>
<circle cx="251.25" cy="504.25" r="2.3" fill="#1717c6"/>
<circle cx="246.25" cy="510.5" r="2.3" fill="#1717c6"/>
<circle cx="251.25" cy="510.5" r="2.3" fill="#1717c6"/>
<rect x="259.5" y="494.25" width="8" height="17.75" fill="none" stroke="#777777" stroke-width="1"/>
<line x1="259.5" y1="510.5" x2="267.5" y2="510.5" stroke="#1a1a1a" stroke-width="1.4"/>
<circle cx="263" cy="450" r="2.3" fill="#d81c2a"/>
<circle cx="263" cy="494.25" r="2.3" fill="#d81c2a"/>
<circle cx="263" cy="508.75" r="2.3" fill="#d81c2a"/>
<circle cx="267.5" cy="511.25" r="2.3" fill="#d81c2a"/>
<circle cx="263" cy="516.25" r="2.3" fill="#d81c2a"/>
<rect x="285.5" y="489.25" width="7.5" height="26.25" fill="none" stroke="#777777" stroke-width="1"/>
<line x1="285.5" y1="501.25" x2="293" y2="501.25" stroke="#1a1a1a" stroke-width="1.4"/>
<circle cx="290" cy="482" r="2.3" fill="#1717c6"/>
<circle cx="290" cy="490" r="2.3" fill="#1717c6"/>
<circle cx="290" cy="496.25" r="2.3" fill="#1717c6"/>
<circle cx="290" cy="509.25" r="2.3" fill="#1717c6"/>
<circle cx="285.5" cy="515" r="2.3" fill="#1717c6"/>
<circle cx="290" cy="517" r="2.3" fill="#1717c6"/>
<rect x="297.5" y="510" width="7.5" height="5.5" fill="none" stroke="#777777" stroke-width="1"/>
<line x1="297.5" y1="512.5" x2="305" y2="512.5" stroke="#1a1a1a" stroke-width="1.4"/>
<circle cx="304.25" cy="496.25" r="2.3" fill="#d81c2a"/>
<circle cx="300" cy="510" r="2.3" fill="#d81c2a"/>
<circle cx="304.25" cy="510" r="2.3" fill="#d81c2a"/>
<circle cx="300" cy="515.5" r="2.3" fill="#d81c2a"/>
<circle cx="304.25" cy="517" r="2.3" fill="#d81c2a"/>
<path d="M324.4,429 V423.5 H332.2 V429" fill="none" stroke="#777777" stroke-width="1"/>
<path d="M324.4,435.8 V517.5 H332.2 V435.8" fill="none" stroke="#777777" stroke-width="1"/>
<line x1="324.4" y1="499.25" x2="332.2" y2="499.25" stroke="#1a1a1a" stroke-width="1.4"/>
<circle cx="329.5" cy="416.9" r="2.3" fill="#1717c6"/>
<circle cx="329.5" cy="423.1" r="2.3" fill="#1717c6"/>
<circle cx="329.5" cy="488.75" r="2.3" fill="#1717c6"/>
<circle cx="329.5" cy="509.5" r="2.3" fill="#1717c6"/>
<circle cx="325" cy="517.5" r="2.3" fill="#1717c6"/>
<circle cx="329.5" cy="517.5" r="2.3" fill="#1717c6"/>
<path d="M338.3,429 V426 H345.7 V429" fill="none" stroke="#777777" stroke-width="1"/>
<path d="M338.3,435.8 V517.5 H345.7 V435.8" fill="none" stroke="#777777" stroke-width="1"/>
<line x1="338.3" y1="502" x2="345.7" y2="502" stroke="#1a1a1a" stroke-width="1.4"/>
<circle cx="341.9" cy="425.8" r="2.3" fill="#d81c2a"/>
<circle cx="341.75" cy="498" r="2.3" fill="#d81c2a"/>
<circle cx="341.75" cy="506.25" r="2.3" fill="#d81c2a"/>
<circle cx="341.75" cy="511.75" r="2.3" fill="#d81c2a"/>
<circle cx="341.75" cy="517.5" r="2.3" fill="#d81c2a"/>
<line x1="381.8" y1="305" x2="381.8" y2="320.5" stroke="#3c3c3c" stroke-width="1"/>
<line x1="380.2" y1="307.5" x2="381.8" y2="307.5" stroke="#3c3c3c" stroke-width="0.7"/>
<line x1="380.2" y1="310.38" x2="381.8" y2="310.38" stroke="#3c3c3c" stroke-width="0.7"/>
<line x1="380.2" y1="313.25" x2="381.8" y2="313.25" stroke="#3c3c3c" stroke-width="0.7"/>
<line x1="380.2" y1="316.12" x2="381.8" y2="316.12" stroke="#3c3c3c" stroke-width="0.7"/>
<line x1="380.2" y1="319" x2="381.8" y2="319" stroke="#3c3c3c" stroke-width="0.7"/>
<line x1="380.6" y1="321.7" x2="382.4" y2="319.9" stroke="#3c3c3c" stroke-width="0.7"/>
<line x1="379.3" y1="309" x2="381.8" y2="309" stroke="#3c3c3c" stroke-width="1"/>
<line x1="381.8" y1="326.2" x2="381.8" y2="407.3" stroke="#3c3c3c" stroke-width="1"/>
<line x1="379.3" y1="326.5" x2="381.8" y2="326.5" stroke="#3c3c3c" stroke-width="1"/>
<line x1="381.8" y1="407.3" x2="506.5" y2="407.3" stroke="#3c3c3c" stroke-width="1"/>
<line x1="379.3" y1="353.75" x2="381.8" y2="353.75" stroke="#3c3c3c" stroke-width="1"/>
<line x1="379.3" y1="379.25" x2="381.8" y2="379.25" stroke="#3c3c3c" stroke-width="1"/>
<line x1="420.75" y1="405.5" x2="420.75" y2="408.3" stroke="#3c3c3c" stroke-width="1"/>
<line x1="459.4" y1="405.5" x2="459.4" y2="408.3" stroke="#3c3c3c" stroke-width="1"/>
<line x1="498.8" y1="405.5" x2="498.8" y2="408.3" stroke="#3c3c3c" stroke-width="1"/>
<text x="378.5" y="310.5" font-size="11.2" fill="#000" stroke="#000" stroke-width="0.15" text-anchor="end">2.5</text>
<text x="378.5" y="357.5" font-size="11.2" fill="#000" stroke="#000" stroke-width="0.15" text-anchor="end">0.4</text>
<text x="378.5" y="382.5" font-size="11.2" fill="#000" stroke="#000" stroke-width="0.15" text-anchor="end">0.2</text>
<rect x="390.5" y="345" width="8.25" height="33" fill="none" stroke="#777777" stroke-width="1"/>
<line x1="390.5" y1="357.5" x2="398.75" y2="357.5" stroke="#1a1a1a" stroke-width="1.4"/>
<circle cx="394" cy="309.8" r="2.3" fill="#1717c6"/>
<circle cx="394.25" cy="346.75" r="2.3" fill="#1717c6"/>
<circle cx="398.75" cy="345" r="2.3" fill="#1717c6"/>
<circle cx="394.25" cy="367.5" r="2.3" fill="#1717c6"/>
<circle cx="394.25" cy="378" r="2.3" fill="#1717c6"/>
<circle cx="394.25" cy="396.25" r="2.3" fill="#1717c6"/>
<rect x="404.25" y="363" width="7.75" height="23.25" fill="none" stroke="#777777" stroke-width="1"/>
<line x1="404.25" y1="376.25" x2="412" y2="376.25" stroke="#1a1a1a" stroke-width="1.4"/>
<circle cx="408.75" cy="317.5" r="2.3" fill="#d81c2a"/>
<circle cx="408.75" cy="362" r="2.3" fill="#d81c2a"/>
<circle cx="408.75" cy="367" r="2.3" fill="#d81c2a"/>
<circle cx="403.75" cy="386.25" r="2.3" fill="#d81c2a"/>
<circle cx="408.75" cy="388" r="2.3" fill="#d81c2a"/>
<circle cx="413" cy="385" r="2.3" fill="#d81c2a"/>
<rect x="430" y="358.5" width="7.3" height="44.2" fill="none" stroke="#777777" stroke-width="1"/>
<line x1="430" y1="384" x2="437.3" y2="384" stroke="#1a1a1a" stroke-width="1.4"/>
<circle cx="433.2" cy="317" r="2.3" fill="#1717c6"/>
<circle cx="433.1" cy="358.1" r="2.3" fill="#1717c6"/>
<circle cx="433.1" cy="365.2" r="2.3" fill="#1717c6"/>
<circle cx="433.1" cy="402.7" r="2.3" fill="#1717c6"/>
<circle cx="437.7" cy="403.3" r="2.3" fill="#1717c6"/>
<circle cx="433.1" cy="407.5" r="2.3" fill="#1717c6"/>
<rect x="443.5" y="386.3" width="6.9" height="12.2" fill="none" stroke="#777777" stroke-width="1"/>
<line x1="443.5" y1="391.2" x2="450.4" y2="391.2" stroke="#1a1a1a" stroke-width="1.4"/>
<circle cx="446.5" cy="372.9" r="2.3" fill="#d81c2a"/>
<circle cx="446.5" cy="387.3" r="2.3" fill="#d81c2a"/>
<circle cx="451.2" cy="386.3" r="2.3" fill="#d81c2a"/>
<circle cx="446.5" cy="395.4" r="2.3" fill="#d81c2a"/>
<circle cx="446.5" cy="398.5" r="2.3" fill="#d81c2a"/>
<circle cx="446.5" cy="404.6" r="2.3" fill="#d81c2a"/>
<rect x="469" y="391.2" width="7.3" height="14.4" fill="none" stroke="#777777" stroke-width="1"/>
<line x1="469" y1="401.2" x2="476.3" y2="401.2" stroke="#1a1a1a" stroke-width="1.4"/>
<circle cx="473.5" cy="384.4" r="2.3" fill="#1717c6"/>
<circle cx="473.5" cy="391.2" r="2.3" fill="#1717c6"/>
<circle cx="473.5" cy="397.9" r="2.3" fill="#1717c6"/>
<circle cx="473.5" cy="403.7" r="2.3" fill="#1717c6"/>
<circle cx="469" cy="406.9" r="2.3" fill="#1717c6"/>
<circle cx="473.5" cy="406.9" r="2.3" fill="#1717c6"/>
<rect x="482.5" y="400.8" width="6.7" height="5.7" fill="none" stroke="#777777" stroke-width="1"/>
<line x1="482.5" y1="402.1" x2="489.2" y2="402.1" stroke="#1a1a1a" stroke-width="1.4"/>
<circle cx="485.4" cy="394.6" r="2.3" fill="#d81c2a"/>
<circle cx="490.2" cy="399.8" r="2.3" fill="#d81c2a"/>
<circle cx="488.7" cy="403.3" r="2.3" fill="#d81c2a"/>
<circle cx="481.5" cy="405.6" r="2.3" fill="#d81c2a"/>
<circle cx="485.4" cy="406.9" r="2.3" fill="#d81c2a"/>
<line x1="381.8" y1="416.2" x2="381.8" y2="430" stroke="#3c3c3c" stroke-width="1"/>
<line x1="380.2" y1="418.7" x2="381.8" y2="418.7" stroke="#3c3c3c" stroke-width="0.7"/>
<line x1="380.2" y1="421.15" x2="381.8" y2="421.15" stroke="#3c3c3c" stroke-width="0.7"/>
<line x1="380.2" y1="423.6" x2="381.8" y2="423.6" stroke="#3c3c3c" stroke-width="0.7"/>
<line x1="380.2" y1="426.05" x2="381.8" y2="426.05" stroke="#3c3c3c" stroke-width="0.7"/>
<line x1="380.2" y1="428.5" x2="381.8" y2="428.5" stroke="#3c3c3c" stroke-width="0.7"/>
<line x1="380.6" y1="431.2" x2="382.4" y2="429.4" stroke="#3c3c3c" stroke-width="0.7"/>
<line x1="379.3" y1="420.2" x2="381.8" y2="420.2" stroke="#3c3c3c" stroke-width="1"/>
<line x1="381.8" y1="436.2" x2="381.8" y2="517.7" stroke="#3c3c3c" stroke-width="1"/>
<line x1="379.3" y1="436.5" x2="381.8" y2="436.5" stroke="#3c3c3c" stroke-width="1"/>
<line x1="381.8" y1="517.7" x2="506.5" y2="517.7" stroke="#3c3c3c" stroke-width="1"/>
<line x1="379.3" y1="456.75" x2="381.8" y2="456.75" stroke="#3c3c3c" stroke-width="1"/>
<line x1="379.3" y1="477" x2="381.8" y2="477" stroke="#3c3c3c" stroke-width="1"/>
<line x1="379.3" y1="497" x2="381.8" y2="497" stroke="#3c3c3c" stroke-width="1"/>
<line x1="420.75" y1="515.9" x2="420.75" y2="518.7" stroke="#3c3c3c" stroke-width="1"/>
<line x1="460.4" y1="515.9" x2="460.4" y2="518.7" stroke="#3c3c3c" stroke-width="1"/>
<line x1="500.8" y1="515.9" x2="500.8" y2="518.7" stroke="#3c3c3c" stroke-width="1"/>
<text x="378.5" y="422.5" font-size="11.2" fill="#000" stroke="#000" stroke-width="0.15" text-anchor="end">3.0</text>
<text x="378.5" y="460.2" font-size="11.2" fill="#000" stroke="#000" stroke-width="0.15" text-anchor="end">0.6</text>
<text x="378.5" y="480.2" font-size="11.2" fill="#000" stroke="#000" stroke-width="0.15" text-anchor="end">0.4</text>
<text x="378.5" y="500.8" font-size="11.2" fill="#000" stroke="#000" stroke-width="0.15" text-anchor="end">0.2</text>
<rect x="391.25" y="469.5" width="7.5" height="48" fill="none" stroke="#777777" stroke-width="1"/>
<line x1="391.25" y1="486.25" x2="398.75" y2="486.25" stroke="#1a1a1a" stroke-width="1.4"/>
<circle cx="396.25" cy="415.5" r="2.3" fill="#1717c6"/>
<circle cx="396.25" cy="469.5" r="2.3" fill="#1717c6"/>
<circle cx="396.25" cy="481.75" r="2.3" fill="#1717c6"/>
<circle cx="396.25" cy="491.25" r="2.3" fill="#1717c6"/>
<circle cx="391.25" cy="517.5" r="2.3" fill="#1717c6"/>
<circle cx="396.25" cy="517.5" r="2.3" fill="#1717c6"/>
<rect x="404.5" y="477" width="8" height="40.5" fill="none" stroke="#777777" stroke-width="1"/>
<line x1="404.5" y1="498.75" x2="412.5" y2="498.75" stroke="#1a1a1a" stroke-width="1.4"/>
<ellipse cx="409.5" cy="428.4" rx="2.3" ry="1.3" fill="#d81c2a"/>
<circle cx="409.5" cy="477" r="2.3" fill="#d81c2a"/>
<circle cx="409.5" cy="493.75" r="2.3" fill="#d81c2a"/>
<circle cx="409.5" cy="503" r="2.3" fill="#d81c2a"/>
<circle cx="404.5" cy="515.5" r="2.3" fill="#d81c2a"/>
<circle cx="409.5" cy="517.5" r="2.3" fill="#d81c2a"/>
<rect x="430.6" y="482.5" width="7.1" height="22.1" fill="none" stroke="#777777" stroke-width="1"/>
<line x1="430.6" y1="490.2" x2="437.7" y2="490.2" stroke="#1a1a1a" stroke-width="1.4"/>
<circle cx="434" cy="427.7" r="2.3" fill="#1717c6"/>
<circle cx="434" cy="481.9" r="2.3" fill="#1717c6"/>
<circle cx="434" cy="487.7" r="2.3" fill="#1717c6"/>
<circle cx="434" cy="493.5" r="2.3" fill="#1717c6"/>
<circle cx="434" cy="505.6" r="2.3" fill="#1717c6"/>
<circle cx="434" cy="517.7" r="2.3" fill="#1717c6"/>
<rect x="444" y="468" width="7.3" height="42.4" fill="none" stroke="#777777" stroke-width="1"/>
<line x1="444" y1="502.7" x2="451.3" y2="502.7" stroke="#1a1a1a" stroke-width="1.4"/>
<circle cx="448.3" cy="445" r="2.3" fill="#d81c2a"/>
<circle cx="448.3" cy="468" r="2.3" fill="#d81c2a"/>
<circle cx="448.3" cy="494.6" r="2.3" fill="#d81c2a"/>
<circle cx="443.5" cy="511.3" r="2.3" fill="#d81c2a"/>
<circle cx="448.3" cy="513.7" r="2.3" fill="#d81c2a"/>
<circle cx="452.3" cy="510.8" r="2.3" fill="#d81c2a"/>
<rect x="469.6" y="439.2" width="7.5" height="75" fill="none" stroke="#777777" stroke-width="1"/>
<line x1="469.6" y1="498.3" x2="477.1" y2="498.3" stroke="#1a1a1a" stroke-width="1.4"/>
<circle cx="473.5" cy="422.9" r="2.3" fill="#1717c6"/>
<circle cx="473.5" cy="439.2" r="2.3" fill="#1717c6"/>
<circle cx="473.5" cy="492.1" r="2.3" fill="#1717c6"/>
<circle cx="473.5" cy="504" r="2.3" fill="#1717c6"/>
<circle cx="473.5" cy="513.7" r="2.3" fill="#1717c6"/>
<circle cx="473.5" cy="517.7" r="2.3" fill="#1717c6"/>
<rect x="483.5" y="446.9" width="7.1" height="69.3" fill="none" stroke="#777777" stroke-width="1"/>
<line x1="483.5" y1="501.7" x2="490.6" y2="501.7" stroke="#1a1a1a" stroke-width="1.4"/>
<circle cx="487.7" cy="420.4" r="2.3" fill="#d81c2a"/>
<circle cx="487.7" cy="446.9" r="2.3" fill="#d81c2a"/>
<circle cx="487.7" cy="495.6" r="2.3" fill="#d81c2a"/>
<circle cx="487.7" cy="507.9" r="2.3" fill="#d81c2a"/>
<circle cx="483.5" cy="514.8" r="2.3" fill="#d81c2a"/>
<circle cx="487.7" cy="516.2" r="2.3" fill="#d81c2a"/>
<text x="137" y="304" font-size="12" fill="#000" stroke="#000" stroke-width="0.15">IL-15</text>
<text x="281.8" y="303.8" font-size="12" fill="#000" stroke="#000" stroke-width="0.15">ART</text>
<text x="413" y="303.9" font-size="12" fill="#000" stroke="#000" stroke-width="0.15">ART+IL-15</text>
<text x="41.3" y="356.3" font-size="12" fill="#000" stroke="#000" stroke-width="0.15">CD4<tspan font-size="7.5" dy="-4.8">+</tspan></text>
<text x="41.3" y="462.4" font-size="12" fill="#000" stroke="#000" stroke-width="0.15">CD8<tspan font-size="7.5" dy="-4.8">+</tspan></text>
<text transform="translate(24.1,513.2) rotate(-90)" font-size="12.5" fill="#000" stroke="#000" stroke-width="0.15">Percent cytokine-producing T cells</text>
<text x="110" y="529.5" font-size="11" fill="#000" stroke="#000" stroke-width="0.15" text-anchor="middle">Gag</text>
<text x="150.6" y="529.5" font-size="11" fill="#000" stroke="#000" stroke-width="0.15" text-anchor="middle">Env</text>
<text x="187.6" y="529.5" font-size="11" fill="#000" stroke="#000" stroke-width="0.15" text-anchor="middle">CMV</text>
<text x="256.2" y="529.5" font-size="11" fill="#000" stroke="#000" stroke-width="0.15" text-anchor="middle">Gag</text>
<text x="297" y="529.5" font-size="11" fill="#000" stroke="#000" stroke-width="0.15" text-anchor="middle">Env</text>
<text x="333.8" y="529.5" font-size="11" fill="#000" stroke="#000" stroke-width="0.15" text-anchor="middle">CMV</text>
<text x="401.2" y="529.5" font-size="11" fill="#000" stroke="#000" stroke-width="0.15" text-anchor="middle">Gag</text>
<text x="442.6" y="529.5" font-size="11" fill="#000" stroke="#000" stroke-width="0.15" text-anchor="middle">Env</text>
<text x="478.6" y="529.5" font-size="11" fill="#000" stroke="#000" stroke-width="0.15" text-anchor="middle">CMV</text>
<rect x="466.5" y="328.4" width="9.7" height="9" fill="#0a0ae0"/>
<rect x="466.5" y="345.7" width="9.7" height="9" fill="#ee0a0a"/>
<text x="480.2" y="335.4" font-size="12" fill="#000" stroke="#000" stroke-width="0.15">d-7</text>
<text x="480.2" y="353.2" font-size="12" fill="#000" stroke="#000" stroke-width="0.15">d46</text>
<line x1="94.6" y1="580" x2="94.6" y2="649.3" stroke="#9a9a9a" stroke-width="0.9"/>
<line x1="94.6" y1="649.3" x2="175.8" y2="649.3" stroke="#8a8a8a" stroke-width="0.9"/>
<line x1="121.9" y1="647.8" x2="121.9" y2="649.3" stroke="#8a8a8a" stroke-width="0.8"/>
<line x1="149.8" y1="647.8" x2="149.8" y2="649.3" stroke="#8a8a8a" stroke-width="0.8"/>
<line x1="93.1" y1="580.3" x2="94.6" y2="580.3" stroke="#9a9a9a" stroke-width="0.8"/>
<line x1="93.1" y1="603.4" x2="94.6" y2="603.4" stroke="#9a9a9a" stroke-width="0.8"/>
<line x1="93.1" y1="626.7" x2="94.6" y2="626.7" stroke="#9a9a9a" stroke-width="0.8"/>
<text x="89.6" y="585.1" font-size="11" fill="#000" stroke="#000" stroke-width="0.15" text-anchor="end">0.6</text>
<text x="89.6" y="607.9" font-size="11" fill="#000" stroke="#000" stroke-width="0.15" text-anchor="end">0.4</text>
<text x="89.6" y="631.2" font-size="11" fill="#000" stroke="#000" stroke-width="0.15" text-anchor="end">0.2</text>
<rect x="104.4" y="609.1" width="2.9" height="11.8" rx="1.2" fill="#e9e9e9" stroke="#66669a" stroke-width="0.85"/>
<ellipse cx="105.85" cy="610" rx="1.35" ry="1" fill="#1a1aa0"/>
<ellipse cx="105.85" cy="620" rx="1.35" ry="1" fill="#1a1aa0"/>
<line x1="104.4" y1="612.3" x2="107.3" y2="612.3" stroke="#2a2a2a" stroke-width="1.1"/>
<rect x="108.9" y="589.3" width="2.8" height="31.1" rx="1.2" fill="#e9e9e9" stroke="#aa8e8e" stroke-width="0.85"/>
<ellipse cx="110.3" cy="590.2" rx="1.3" ry="1" fill="#c03030"/>
<ellipse cx="110.3" cy="619.5" rx="1.3" ry="1" fill="#c03030"/>
<line x1="108.9" y1="600.6" x2="111.7" y2="600.6" stroke="#2a2a2a" stroke-width="1.1"/>
<rect x="131.4" y="601.8" width="2.9" height="22.9" rx="1.2" fill="#e9e9e9" stroke="#66669a" stroke-width="0.85"/>
<ellipse cx="132.85" cy="602.7" rx="1.35" ry="1" fill="#1a1aa0"/>
<ellipse cx="132.85" cy="623.8" rx="1.35" ry="1" fill="#1a1aa0"/>
<line x1="131.4" y1="612.6" x2="134.3" y2="612.6" stroke="#2a2a2a" stroke-width="1.1"/>
<rect x="136.1" y="593.2" width="3" height="32" rx="1.2" fill="#e9e9e9" stroke="#aa8e8e" stroke-width="0.85"/>
<ellipse cx="137.6" cy="594.1" rx="1.4" ry="1" fill="#c03030"/>
<ellipse cx="137.6" cy="624.3" rx="1.4" ry="1" fill="#c03030"/>
<line x1="136.1" y1="608.7" x2="139.1" y2="608.7" stroke="#2a2a2a" stroke-width="1.1"/>
<rect x="159.1" y="633" width="2.6" height="11.5" rx="1.2" fill="#e9e9e9" stroke="#66669a" stroke-width="0.85"/>
<ellipse cx="160.4" cy="633.9" rx="1.2" ry="1" fill="#1a1aa0"/>
<ellipse cx="160.4" cy="643.6" rx="1.2" ry="1" fill="#1a1aa0"/>
<line x1="159.1" y1="639.9" x2="161.7" y2="639.9" stroke="#2a2a2a" stroke-width="1.1"/>
<rect x="163.7" y="602.3" width="2.7" height="38.5" rx="1.2" fill="#e9e9e9" stroke="#aa8e8e" stroke-width="0.85"/>
<ellipse cx="165.05" cy="603.2" rx="1.25" ry="1" fill="#c03030"/>
<ellipse cx="165.05" cy="639.9" rx="1.25" ry="1" fill="#c03030"/>
<line x1="94.2" y1="658.5" x2="94.2" y2="726.2" stroke="#9a9a9a" stroke-width="0.9"/>
<line x1="94.2" y1="726.2" x2="175.8" y2="726.2" stroke="#8a8a8a" stroke-width="0.9"/>
<line x1="121.9" y1="724.7" x2="121.9" y2="726.2" stroke="#8a8a8a" stroke-width="0.8"/>
<line x1="149.8" y1="724.7" x2="149.8" y2="726.2" stroke="#8a8a8a" stroke-width="0.8"/>
<line x1="92.7" y1="668.6" x2="94.2" y2="668.6" stroke="#9a9a9a" stroke-width="0.8"/>
<line x1="92.7" y1="688.3" x2="94.2" y2="688.3" stroke="#9a9a9a" stroke-width="0.8"/>
<line x1="92.7" y1="708.6" x2="94.2" y2="708.6" stroke="#9a9a9a" stroke-width="0.8"/>
<text x="92" y="672.3" font-size="11" fill="#000" stroke="#000" stroke-width="0.15" text-anchor="end">0.06</text>
<text x="92" y="692" font-size="11" fill="#000" stroke="#000" stroke-width="0.15" text-anchor="end">0.04</text>
<text x="92" y="712.3" font-size="11" fill="#000" stroke="#000" stroke-width="0.15" text-anchor="end">0.02</text>
<rect x="104.6" y="693.5" width="3.3" height="20.2" rx="1.2" fill="#e9e9e9" stroke="#66669a" stroke-width="0.85"/>
<ellipse cx="106.25" cy="694.4" rx="1.55" ry="1" fill="#1a1aa0"/>
<ellipse cx="106.25" cy="712.8" rx="1.55" ry="1" fill="#1a1aa0"/>
<line x1="104.6" y1="700.7" x2="107.9" y2="700.7" stroke="#2a2a2a" stroke-width="1.1"/>
<rect x="109.4" y="666" width="3.3" height="54.8" rx="1.2" fill="#e9e9e9" stroke="#aa8e8e" stroke-width="0.85"/>
<ellipse cx="111.05" cy="666.9" rx="1.55" ry="1" fill="#c03030"/>
<ellipse cx="111.05" cy="719.9" rx="1.55" ry="1" fill="#c03030"/>
<line x1="109.4" y1="681" x2="112.7" y2="681" stroke="#2a2a2a" stroke-width="1.1"/>
<rect x="131.9" y="693.8" width="3.1" height="10.6" rx="1.2" fill="#e9e9e9" stroke="#66669a" stroke-width="0.85"/>
<ellipse cx="133.45" cy="694.7" rx="1.45" ry="1" fill="#1a1aa0"/>
<ellipse cx="133.45" cy="703.5" rx="1.45" ry="1" fill="#1a1aa0"/>
<line x1="131.9" y1="699" x2="135" y2="699" stroke="#2a2a2a" stroke-width="1.1"/>
<rect x="136.3" y="709.6" width="3.3" height="17.9" rx="1.2" fill="#e9e9e9" stroke="#aa8e8e" stroke-width="0.85"/>
<ellipse cx="137.95" cy="710.5" rx="1.55" ry="1" fill="#c03030"/>
<ellipse cx="137.95" cy="726.6" rx="1.55" ry="1" fill="#c03030"/>
<line x1="136.3" y1="718.5" x2="139.6" y2="718.5" stroke="#2a2a2a" stroke-width="1.1"/>
<ellipse cx="160.4" cy="712.1" rx="1.5" ry="1.5" fill="#1a1aa0"/>
<rect x="163.7" y="697.3" width="3" height="26.4" rx="1.2" fill="#e9e9e9" stroke="#aa8e8e" stroke-width="0.85"/>
<ellipse cx="165.2" cy="698.2" rx="1.4" ry="1" fill="#c03030"/>
<ellipse cx="165.2" cy="722.8" rx="1.4" ry="1" fill="#c03030"/>
<line x1="194.5" y1="580.2" x2="194.5" y2="649.2" stroke="#9a9a9a" stroke-width="0.9"/>
<line x1="194.5" y1="649.2" x2="275.6" y2="649.2" stroke="#8a8a8a" stroke-width="0.9"/>
<line x1="221.1" y1="647.7" x2="221.1" y2="649.2" stroke="#8a8a8a" stroke-width="0.8"/>
<line x1="248.6" y1="647.7" x2="248.6" y2="649.2" stroke="#8a8a8a" stroke-width="0.8"/>
<line x1="193" y1="589" x2="194.5" y2="589" stroke="#9a9a9a" stroke-width="0.8"/>
<line x1="193" y1="604.2" x2="194.5" y2="604.2" stroke="#9a9a9a" stroke-width="0.8"/>
<line x1="193" y1="619.5" x2="194.5" y2="619.5" stroke="#9a9a9a" stroke-width="0.8"/>
<line x1="193" y1="639.2" x2="194.5" y2="639.2" stroke="#9a9a9a" stroke-width="0.8"/>
<text x="190.4" y="592.3" font-size="11" fill="#000" stroke="#000" stroke-width="0.15" text-anchor="end">8</text>
<text x="190.4" y="607.5" font-size="11" fill="#000" stroke="#000" stroke-width="0.15" text-anchor="end">6</text>
<text x="190.4" y="622.9" font-size="11" fill="#000" stroke="#000" stroke-width="0.15" text-anchor="end">4</text>
<text x="190.4" y="642.6" font-size="11" fill="#000" stroke="#000" stroke-width="0.15" text-anchor="end">2</text>
<rect x="204.2" y="628.1" width="3" height="14.8" rx="1.2" fill="#e9e9e9" stroke="#66669a" stroke-width="0.85"/>
<ellipse cx="205.7" cy="629" rx="1.4" ry="1" fill="#1a1aa0"/>
<ellipse cx="205.7" cy="642" rx="1.4" ry="1" fill="#1a1aa0"/>
<line x1="204.2" y1="631" x2="207.2" y2="631" stroke="#2a2a2a" stroke-width="1.1"/>
<rect x="208.8" y="627" width="3.2" height="14.4" rx="1.2" fill="#e9e9e9" stroke="#aa8e8e" stroke-width="0.85"/>
<ellipse cx="210.4" cy="627.9" rx="1.5" ry="1" fill="#c03030"/>
<ellipse cx="210.4" cy="640.5" rx="1.5" ry="1" fill="#c03030"/>
<rect x="231.5" y="603.8" width="3.2" height="31.2" rx="1.2" fill="#e9e9e9" stroke="#66669a" stroke-width="0.85"/>
<ellipse cx="233.1" cy="604.7" rx="1.5" ry="1" fill="#1a1aa0"/>
<ellipse cx="233.1" cy="634.1" rx="1.5" ry="1" fill="#1a1aa0"/>
<line x1="231.5" y1="620" x2="234.7" y2="620" stroke="#2a2a2a" stroke-width="1.1"/>
<rect x="236.3" y="628.1" width="2.8" height="16.9" rx="1.2" fill="#e9e9e9" stroke="#aa8e8e" stroke-width="0.85"/>
<ellipse cx="237.7" cy="629" rx="1.3" ry="1" fill="#c03030"/>
<ellipse cx="237.7" cy="644.1" rx="1.3" ry="1" fill="#c03030"/>
<line x1="236.3" y1="635.5" x2="239.1" y2="635.5" stroke="#2a2a2a" stroke-width="1.1"/>
<rect x="258.6" y="587.8" width="3.1" height="29.3" rx="1.2" fill="#e9e9e9" stroke="#66669a" stroke-width="0.85"/>
<ellipse cx="260.15" cy="588.7" rx="1.45" ry="1" fill="#1a1aa0"/>
<ellipse cx="260.15" cy="616.2" rx="1.45" ry="1" fill="#1a1aa0"/>
<rect x="263.3" y="615.5" width="3" height="27.7" rx="1.2" fill="#e9e9e9" stroke="#aa8e8e" stroke-width="0.85"/>
<ellipse cx="264.8" cy="616.4" rx="1.4" ry="1" fill="#c03030"/>
<ellipse cx="264.8" cy="642.3" rx="1.4" ry="1" fill="#c03030"/>
<line x1="194.7" y1="657.7" x2="194.7" y2="727.1" stroke="#9a9a9a" stroke-width="0.9"/>
<line x1="194.7" y1="727.1" x2="274.4" y2="727.1" stroke="#8a8a8a" stroke-width="0.9"/>
<line x1="221.1" y1="725.6" x2="221.1" y2="727.1" stroke="#8a8a8a" stroke-width="0.8"/>
<line x1="248" y1="725.6" x2="248" y2="727.1" stroke="#8a8a8a" stroke-width="0.8"/>
<line x1="193.2" y1="661.3" x2="194.7" y2="661.3" stroke="#9a9a9a" stroke-width="0.8"/>
<line x1="193.2" y1="677.6" x2="194.7" y2="677.6" stroke="#9a9a9a" stroke-width="0.8"/>
<line x1="193.2" y1="694.5" x2="194.7" y2="694.5" stroke="#9a9a9a" stroke-width="0.8"/>
<line x1="193.2" y1="711.1" x2="194.7" y2="711.1" stroke="#9a9a9a" stroke-width="0.8"/>
<text x="190.4" y="664.5" font-size="11" fill="#000" stroke="#000" stroke-width="0.15" text-anchor="end">4</text>
<text x="190.4" y="681" font-size="11" fill="#000" stroke="#000" stroke-width="0.15" text-anchor="end">3</text>
<text x="190.4" y="697.9" font-size="11" fill="#000" stroke="#000" stroke-width="0.15" text-anchor="end">2</text>
<text x="190.4" y="714.8" font-size="11" fill="#000" stroke="#000" stroke-width="0.15" text-anchor="end">1</text>
<rect x="204.2" y="671.4" width="3" height="54" rx="1.2" fill="#e9e9e9" stroke="#66669a" stroke-width="0.85"/>
<ellipse cx="205.7" cy="672.3" rx="1.4" ry="1" fill="#1a1aa0"/>
<ellipse cx="205.7" cy="724.5" rx="1.4" ry="1" fill="#1a1aa0"/>
<line x1="204.2" y1="698.5" x2="207.2" y2="698.5" stroke="#2a2a2a" stroke-width="1.1"/>
<rect x="208.8" y="701" width="3.2" height="23.3" rx="1.2" fill="#e9e9e9" stroke="#aa8e8e" stroke-width="0.85"/>
<ellipse cx="210.4" cy="701.9" rx="1.5" ry="1" fill="#c03030"/>
<ellipse cx="210.4" cy="723.4" rx="1.5" ry="1" fill="#c03030"/>
<line x1="208.8" y1="720" x2="212" y2="720" stroke="#2a2a2a" stroke-width="1.1"/>
<rect x="231.1" y="687.3" width="3.1" height="25" rx="1.2" fill="#e9e9e9" stroke="#66669a" stroke-width="0.85"/>
<ellipse cx="232.65" cy="688.2" rx="1.45" ry="1" fill="#1a1aa0"/>
<ellipse cx="232.65" cy="711.4" rx="1.45" ry="1" fill="#1a1aa0"/>
<line x1="231.1" y1="700.4" x2="234.2" y2="700.4" stroke="#2a2a2a" stroke-width="1.1"/>
<rect x="235.9" y="683.1" width="3.2" height="41.7" rx="1.2" fill="#e9e9e9" stroke="#aa8e8e" stroke-width="0.85"/>
<ellipse cx="237.5" cy="684" rx="1.5" ry="1" fill="#c03030"/>
<ellipse cx="237.5" cy="723.9" rx="1.5" ry="1" fill="#c03030"/>
<rect x="258.6" y="701" width="3.1" height="26.5" rx="1.2" fill="#e9e9e9" stroke="#66669a" stroke-width="0.85"/>
<ellipse cx="260.15" cy="701.9" rx="1.45" ry="1" fill="#1a1aa0"/>
<ellipse cx="260.15" cy="726.6" rx="1.45" ry="1" fill="#1a1aa0"/>
<line x1="258.6" y1="714.4" x2="261.7" y2="714.4" stroke="#2a2a2a" stroke-width="1.1"/>
<rect x="263.4" y="681.4" width="3.2" height="44" rx="1.2" fill="#e9e9e9" stroke="#aa8e8e" stroke-width="0.85"/>
<ellipse cx="265" cy="682.3" rx="1.5" ry="1" fill="#c03030"/>
<ellipse cx="265" cy="724.5" rx="1.5" ry="1" fill="#c03030"/>
<line x1="281.4" y1="585" x2="281.4" y2="649" stroke="#d0d0d0" stroke-width="0.8"/>
<line x1="281.2" y1="652" x2="281.2" y2="722" stroke="#ececec" stroke-width="0.8"/>
<circle cx="281.4" cy="585.8" r="0.8" fill="#555"/>
<line x1="329.5" y1="580" x2="329.5" y2="648" stroke="#9a9a9a" stroke-width="0.9"/>
<line x1="329.5" y1="648" x2="409.8" y2="648" stroke="#8a8a8a" stroke-width="0.9"/>
<line x1="357" y1="646.5" x2="357" y2="648" stroke="#8a8a8a" stroke-width="0.8"/>
<line x1="382.9" y1="646.5" x2="382.9" y2="648" stroke="#8a8a8a" stroke-width="0.8"/>
<line x1="328" y1="590.2" x2="329.5" y2="590.2" stroke="#9a9a9a" stroke-width="0.8"/>
<line x1="328" y1="609.4" x2="329.5" y2="609.4" stroke="#9a9a9a" stroke-width="0.8"/>
<line x1="328" y1="628.8" x2="329.5" y2="628.8" stroke="#9a9a9a" stroke-width="0.8"/>
<text x="325.6" y="593.8" font-size="11" fill="#000" stroke="#000" stroke-width="0.15" text-anchor="end">6</text>
<text x="325.6" y="613" font-size="11" fill="#000" stroke="#000" stroke-width="0.15" text-anchor="end">4</text>
<text x="325.6" y="632.5" font-size="11" fill="#000" stroke="#000" stroke-width="0.15" text-anchor="end">2</text>
<rect x="339" y="604.5" width="2.9" height="42.5" rx="1.2" fill="#e9e9e9" stroke="#66669a" stroke-width="0.85"/>
<ellipse cx="340.45" cy="605.4" rx="1.35" ry="1" fill="#1a1aa0"/>
<ellipse cx="340.45" cy="646.1" rx="1.35" ry="1" fill="#1a1aa0"/>
<line x1="339" y1="644" x2="341.9" y2="644" stroke="#2a2a2a" stroke-width="1.1"/>
<rect x="343.4" y="581.5" width="3" height="62.3" rx="1.2" fill="#e9e9e9" stroke="#aa8e8e" stroke-width="0.85"/>
<ellipse cx="344.9" cy="582.4" rx="1.4" ry="1" fill="#c03030"/>
<ellipse cx="344.9" cy="642.9" rx="1.4" ry="1" fill="#c03030"/>
<line x1="343.4" y1="641" x2="346.4" y2="641" stroke="#2a2a2a" stroke-width="1.1"/>
<rect x="366.4" y="641.1" width="2.6" height="6.1" rx="1.2" fill="#e9e9e9" stroke="#66669a" stroke-width="0.85"/>
<ellipse cx="367.7" cy="642" rx="1.2" ry="1" fill="#1a1aa0"/>
<ellipse cx="367.7" cy="646.3" rx="1.2" ry="1" fill="#1a1aa0"/>
<rect x="370.6" y="635.3" width="3" height="11.9" rx="1.2" fill="#e9e9e9" stroke="#aa8e8e" stroke-width="0.85"/>
<ellipse cx="372.1" cy="636.2" rx="1.4" ry="1" fill="#c03030"/>
<ellipse cx="372.1" cy="646.3" rx="1.4" ry="1" fill="#c03030"/>
<line x1="370.6" y1="641" x2="373.6" y2="641" stroke="#2a2a2a" stroke-width="1.1"/>
<rect x="393.8" y="635.2" width="2.6" height="12.5" rx="1.2" fill="#e9e9e9" stroke="#66669a" stroke-width="0.85"/>
<ellipse cx="395.1" cy="636.1" rx="1.2" ry="1" fill="#1a1aa0"/>
<ellipse cx="395.1" cy="646.8" rx="1.2" ry="1" fill="#1a1aa0"/>
<line x1="393.8" y1="642" x2="396.4" y2="642" stroke="#2a2a2a" stroke-width="1.1"/>
<rect x="397.9" y="637.7" width="2.9" height="10" rx="1.2" fill="#e9e9e9" stroke="#aa8e8e" stroke-width="0.85"/>
<ellipse cx="399.35" cy="638.6" rx="1.35" ry="1" fill="#c03030"/>
<ellipse cx="399.35" cy="646.8" rx="1.35" ry="1" fill="#c03030"/>
<line x1="397.9" y1="643" x2="400.8" y2="643" stroke="#2a2a2a" stroke-width="1.1"/>
<line x1="329.5" y1="657.5" x2="329.5" y2="727" stroke="#9a9a9a" stroke-width="0.9"/>
<line x1="329.5" y1="727" x2="410.5" y2="727" stroke="#8a8a8a" stroke-width="0.9"/>
<line x1="357" y1="725.5" x2="357" y2="727" stroke="#8a8a8a" stroke-width="0.8"/>
<line x1="382.9" y1="725.5" x2="382.9" y2="727" stroke="#8a8a8a" stroke-width="0.8"/>
<line x1="328" y1="660" x2="329.5" y2="660" stroke="#9a9a9a" stroke-width="0.8"/>
<line x1="328" y1="676.8" x2="329.5" y2="676.8" stroke="#9a9a9a" stroke-width="0.8"/>
<line x1="328" y1="693.5" x2="329.5" y2="693.5" stroke="#9a9a9a" stroke-width="0.8"/>
<line x1="328" y1="710" x2="329.5" y2="710" stroke="#9a9a9a" stroke-width="0.8"/>
<text x="326.5" y="663.8" font-size="11" fill="#000" stroke="#000" stroke-width="0.15" text-anchor="end">0.2</text>
<text x="326.5" y="680.5" font-size="11" fill="#000" stroke="#000" stroke-width="0.15" text-anchor="end">0.15</text>
<text x="326.5" y="697" font-size="11" fill="#000" stroke="#000" stroke-width="0.15" text-anchor="end">0.1</text>
<text x="326.5" y="713.8" font-size="11" fill="#000" stroke="#000" stroke-width="0.15" text-anchor="end">0.05</text>
<rect x="338.8" y="712.5" width="3.2" height="6.3" rx="1.2" fill="#e9e9e9" stroke="#66669a" stroke-width="0.85"/>
<ellipse cx="340.4" cy="713.4" rx="1.5" ry="1" fill="#1a1aa0"/>
<ellipse cx="340.4" cy="717.9" rx="1.5" ry="1" fill="#1a1aa0"/>
<line x1="338.8" y1="715.5" x2="342" y2="715.5" stroke="#2a2a2a" stroke-width="1.1"/>
<rect x="343.3" y="685" width="3.7" height="42.5" rx="1.2" fill="#e9e9e9" stroke="#aa8e8e" stroke-width="0.85"/>
<ellipse cx="345.15" cy="685.9" rx="1.75" ry="1" fill="#c03030"/>
<ellipse cx="345.15" cy="726.6" rx="1.75" ry="1" fill="#c03030"/>
<line x1="343.3" y1="716.3" x2="347" y2="716.3" stroke="#2a2a2a" stroke-width="1.1"/>
<rect x="365.8" y="697" width="3.4" height="26.3" rx="1.2" fill="#e9e9e9" stroke="#66669a" stroke-width="0.85"/>
<ellipse cx="367.5" cy="697.9" rx="1.6" ry="1" fill="#1a1aa0"/>
<ellipse cx="367.5" cy="722.4" rx="1.6" ry="1" fill="#1a1aa0"/>
<line x1="365.8" y1="710" x2="369.2" y2="710" stroke="#2a2a2a" stroke-width="1.1"/>
<rect x="370.5" y="715.8" width="3.3" height="11.7" rx="1.2" fill="#e9e9e9" stroke="#aa8e8e" stroke-width="0.85"/>
<ellipse cx="372.15" cy="716.7" rx="1.55" ry="1" fill="#c03030"/>
<ellipse cx="372.15" cy="726.6" rx="1.55" ry="1" fill="#c03030"/>
<line x1="370.5" y1="721.3" x2="373.8" y2="721.3" stroke="#2a2a2a" stroke-width="1.1"/>
<rect x="393.3" y="708.3" width="3.5" height="7.5" rx="1.2" fill="#e9e9e9" stroke="#66669a" stroke-width="0.85"/>
<ellipse cx="395.05" cy="709.2" rx="1.65" ry="1" fill="#1a1aa0"/>
<ellipse cx="395.05" cy="714.9" rx="1.65" ry="1" fill="#1a1aa0"/>
<line x1="393.3" y1="712" x2="396.8" y2="712" stroke="#2a2a2a" stroke-width="1.1"/>
<rect x="397.5" y="689.5" width="3.7" height="38" rx="1.2" fill="#e9e9e9" stroke="#aa8e8e" stroke-width="0.85"/>
<ellipse cx="399.35" cy="690.4" rx="1.75" ry="1" fill="#c03030"/>
<ellipse cx="399.35" cy="726.6" rx="1.75" ry="1" fill="#c03030"/>
<line x1="397.5" y1="723" x2="401.2" y2="723" stroke="#2a2a2a" stroke-width="1.1"/>
<line x1="428.6" y1="581" x2="428.6" y2="649.2" stroke="#9a9a9a" stroke-width="0.9"/>
<line x1="428.6" y1="649.2" x2="508.5" y2="649.2" stroke="#8a8a8a" stroke-width="0.9"/>
<line x1="456.5" y1="647.7" x2="456.5" y2="649.2" stroke="#8a8a8a" stroke-width="0.8"/>
<line x1="482.5" y1="647.7" x2="482.5" y2="649.2" stroke="#8a8a8a" stroke-width="0.8"/>
<line x1="427.1" y1="582.8" x2="428.6" y2="582.8" stroke="#9a9a9a" stroke-width="0.8"/>
<line x1="427.1" y1="599.1" x2="428.6" y2="599.1" stroke="#9a9a9a" stroke-width="0.8"/>
<line x1="427.1" y1="616.2" x2="428.6" y2="616.2" stroke="#9a9a9a" stroke-width="0.8"/>
<line x1="427.1" y1="633.5" x2="428.6" y2="633.5" stroke="#9a9a9a" stroke-width="0.8"/>
<text x="426" y="586.2" font-size="11" fill="#000" stroke="#000" stroke-width="0.15" text-anchor="end">20</text>
<text x="426" y="602.5" font-size="11" fill="#000" stroke="#000" stroke-width="0.15" text-anchor="end">15</text>
<text x="426" y="619.8" font-size="11" fill="#000" stroke="#000" stroke-width="0.15" text-anchor="end">10</text>
<text x="426" y="637.1" font-size="11" fill="#000" stroke="#000" stroke-width="0.15" text-anchor="end">5</text>
<rect x="438.3" y="601.9" width="2.9" height="32.3" rx="1.2" fill="#e9e9e9" stroke="#66669a" stroke-width="0.85"/>
<ellipse cx="439.75" cy="602.8" rx="1.35" ry="1" fill="#1a1aa0"/>
<ellipse cx="439.75" cy="633.3" rx="1.35" ry="1" fill="#1a1aa0"/>
<line x1="438.3" y1="615.6" x2="441.2" y2="615.6" stroke="#2a2a2a" stroke-width="1.1"/>
<rect x="442.7" y="600.2" width="2.9" height="17.7" rx="1.2" fill="#e9e9e9" stroke="#aa8e8e" stroke-width="0.85"/>
<ellipse cx="444.15" cy="601.1" rx="1.35" ry="1" fill="#c03030"/>
<ellipse cx="444.15" cy="617" rx="1.35" ry="1" fill="#c03030"/>
<line x1="442.7" y1="616" x2="445.6" y2="616" stroke="#2a2a2a" stroke-width="1.1"/>
<rect x="465.2" y="628" width="2.9" height="16.8" rx="1.2" fill="#e9e9e9" stroke="#66669a" stroke-width="0.85"/>
<ellipse cx="466.65" cy="628.9" rx="1.35" ry="1" fill="#1a1aa0"/>
<ellipse cx="466.65" cy="643.9" rx="1.35" ry="1" fill="#1a1aa0"/>
<line x1="465.2" y1="640" x2="468.1" y2="640" stroke="#2a2a2a" stroke-width="1.1"/>
<rect x="470" y="622.3" width="2.9" height="19.6" rx="1.2" fill="#e9e9e9" stroke="#aa8e8e" stroke-width="0.85"/>
<ellipse cx="471.45" cy="623.2" rx="1.35" ry="1" fill="#c03030"/>
<ellipse cx="471.45" cy="641" rx="1.35" ry="1" fill="#c03030"/>
<line x1="470" y1="638.7" x2="472.9" y2="638.7" stroke="#2a2a2a" stroke-width="1.1"/>
<rect x="492.1" y="606.3" width="2.9" height="42.4" rx="1.2" fill="#e9e9e9" stroke="#66669a" stroke-width="0.85"/>
<ellipse cx="493.55" cy="607.2" rx="1.35" ry="1" fill="#1a1aa0"/>
<ellipse cx="493.55" cy="647.8" rx="1.35" ry="1" fill="#1a1aa0"/>
<line x1="492.1" y1="642.9" x2="495" y2="642.9" stroke="#2a2a2a" stroke-width="1.1"/>
<rect x="496.9" y="634.8" width="2.9" height="13.9" rx="1.2" fill="#e9e9e9" stroke="#aa8e8e" stroke-width="0.85"/>
<ellipse cx="498.35" cy="635.7" rx="1.35" ry="1" fill="#c03030"/>
<ellipse cx="498.35" cy="647.8" rx="1.35" ry="1" fill="#c03030"/>
<line x1="428.4" y1="658.8" x2="428.4" y2="728.1" stroke="#9a9a9a" stroke-width="0.9"/>
<line x1="428.4" y1="728.1" x2="510.8" y2="728.1" stroke="#8a8a8a" stroke-width="0.9"/>
<line x1="456" y1="726.6" x2="456" y2="728.1" stroke="#8a8a8a" stroke-width="0.8"/>
<line x1="486" y1="726.6" x2="486" y2="728.1" stroke="#8a8a8a" stroke-width="0.8"/>
<line x1="426.9" y1="661" x2="428.4" y2="661" stroke="#9a9a9a" stroke-width="0.8"/>
<line x1="426.9" y1="677.3" x2="428.4" y2="677.3" stroke="#9a9a9a" stroke-width="0.8"/>
<line x1="426.9" y1="693.5" x2="428.4" y2="693.5" stroke="#9a9a9a" stroke-width="0.8"/>
<line x1="426.9" y1="709.6" x2="428.4" y2="709.6" stroke="#9a9a9a" stroke-width="0.8"/>
<text x="426.5" y="664.6" font-size="11" fill="#000" stroke="#000" stroke-width="0.15" text-anchor="end">2.0</text>
<text x="426.5" y="680.8" font-size="11" fill="#000" stroke="#000" stroke-width="0.15" text-anchor="end">1.5</text>
<text x="426.5" y="696.9" font-size="11" fill="#000" stroke="#000" stroke-width="0.15" text-anchor="end">1.0</text>
<text x="426.5" y="713" font-size="11" fill="#000" stroke="#000" stroke-width="0.15" text-anchor="end">0.5</text>
<rect x="438" y="681.5" width="4" height="46.6" rx="1.2" fill="#d4d4d4" stroke="#66669a" stroke-width="0.85"/>
<ellipse cx="440" cy="682.4" rx="1.9" ry="1" fill="#1a1aa0"/>
<ellipse cx="440" cy="727.2" rx="1.9" ry="1" fill="#1a1aa0"/>
<line x1="438" y1="705.5" x2="442" y2="705.5" stroke="#2a2a2a" stroke-width="1.1"/>
<rect x="442.7" y="670" width="3.5" height="58.1" rx="1.2" fill="#e9e9e9" stroke="#aa8e8e" stroke-width="0.85"/>
<ellipse cx="444.45" cy="670.9" rx="1.65" ry="1" fill="#c03030"/>
<ellipse cx="444.45" cy="727.2" rx="1.65" ry="1" fill="#c03030"/>
<line x1="442.7" y1="717.2" x2="446.2" y2="717.2" stroke="#2a2a2a" stroke-width="1.1"/>
<rect x="465.3" y="715.4" width="3.5" height="12.7" rx="1.2" fill="#e9e9e9" stroke="#66669a" stroke-width="0.85"/>
<ellipse cx="467.05" cy="716.3" rx="1.65" ry="1" fill="#1a1aa0"/>
<ellipse cx="467.05" cy="727.2" rx="1.65" ry="1" fill="#1a1aa0"/>
<rect x="470" y="681.5" width="3.4" height="40.8" rx="1.2" fill="#e9e9e9" stroke="#aa8e8e" stroke-width="0.85"/>
<ellipse cx="471.7" cy="682.4" rx="1.6" ry="1" fill="#c03030"/>
<ellipse cx="471.7" cy="721.4" rx="1.6" ry="1" fill="#c03030"/>
<line x1="470" y1="707.3" x2="473.4" y2="707.3" stroke="#2a2a2a" stroke-width="1.1"/>
<ellipse cx="494" cy="718.8" rx="1.6" ry="1.6" fill="#1a1aa0"/>
<rect x="497.4" y="694.6" width="3.4" height="30" rx="1.2" fill="#d4d4d4" stroke="#aa8e8e" stroke-width="0.85"/>
<ellipse cx="499.1" cy="695.5" rx="1.6" ry="1" fill="#c03030"/>
<ellipse cx="499.1" cy="723.7" rx="1.6" ry="1" fill="#c03030"/>
<line x1="497.4" y1="717.2" x2="500.8" y2="717.2" stroke="#2a2a2a" stroke-width="1.1"/>
<text x="159.4" y="559.5" font-size="14" fill="#000" stroke="#000" stroke-width="0.15">CD4<tspan font-size="8" dy="-5.5">+</tspan></text>
<text x="394.3" y="559.2" font-size="14" fill="#000" stroke="#000" stroke-width="0.15">CD8<tspan font-size="8" dy="-5.5">+</tspan></text>
<text x="125.5" y="574.5" font-size="12" fill="#000" stroke="#000" stroke-width="0.15">ILN</text>
<text x="224.8" y="574.5" font-size="12" fill="#000" stroke="#000" stroke-width="0.15">BAL</text>
<text x="359.6" y="574.6" font-size="12" fill="#000" stroke="#000" stroke-width="0.15">ILN</text>
<text x="458.3" y="574.6" font-size="12" fill="#000" stroke="#000" stroke-width="0.15">BAL</text>
<text x="44.8" y="580" font-size="12" fill="#000" stroke="#000" stroke-width="0.15">Gag</text>
<text x="44.8" y="659.8" font-size="12" fill="#000" stroke="#000" stroke-width="0.15">CMV</text>
<text x="281.8" y="579.5" font-size="12" fill="#000" stroke="#000" stroke-width="0.15">Gag</text>
<text x="281" y="658.5" font-size="12" fill="#000" stroke="#000" stroke-width="0.15">CMV</text>
<text transform="translate(30.1,737.9) rotate(-90)" font-size="12.3" fill="#000" stroke="#000" stroke-width="0.15">Percent cytokine-producing T cells</text>
<rect x="495.8" y="568.9" width="4.9" height="4.6" fill="#1010e0"/>
<rect x="495.8" y="578.7" width="4.9" height="4.1" fill="#e01010"/>
<text x="502.8" y="573.5" font-size="9.5" fill="#000" stroke="#000" stroke-width="0.15">pre</text>
<text x="502.8" y="583.1" font-size="9.5" fill="#000" stroke="#000" stroke-width="0.15">d28</text>
<text x="111.3" y="739" font-size="10.6" fill="#000" stroke="#000" stroke-width="0.15" text-anchor="middle">IL-15</text>
<text x="137.8" y="739" font-size="10.6" fill="#000" stroke="#000" stroke-width="0.15" text-anchor="middle">ART</text>
<text x="162.8" y="739" font-size="10.6" fill="#000" stroke="#000" stroke-width="0.15" text-anchor="middle">ART</text>
<text x="162.3" y="751.3" font-size="10.6" fill="#000" stroke="#000" stroke-width="0.15" text-anchor="middle">+IL-15</text>
<text x="212.5" y="739.1" font-size="10.6" fill="#000" stroke="#000" stroke-width="0.15" text-anchor="middle">IL-15</text>
<text x="238.5" y="739.1" font-size="10.6" fill="#000" stroke="#000" stroke-width="0.15" text-anchor="middle">ART</text>
<text x="262.2" y="739.1" font-size="10.6" fill="#000" stroke="#000" stroke-width="0.15" text-anchor="middle">ART</text>
<text x="263.3" y="751.8" font-size="10.6" fill="#000" stroke="#000" stroke-width="0.15" text-anchor="middle">+IL-15</text>
<text x="345" y="741.3" font-size="10.6" fill="#000" stroke="#000" stroke-width="0.15" text-anchor="middle">IL-15</text>
<text x="372.7" y="741.3" font-size="10.6" fill="#000" stroke="#000" stroke-width="0.15" text-anchor="middle">ART</text>
<text x="397.7" y="741.3" font-size="10.6" fill="#000" stroke="#000" stroke-width="0.15" text-anchor="middle">ART</text>
<text x="397.5" y="754" font-size="10.6" fill="#000" stroke="#000" stroke-width="0.15" text-anchor="middle">+IL-15</text>
<text x="445" y="741.5" font-size="10.6" fill="#000" stroke="#000" stroke-width="0.15" text-anchor="middle">IL-15</text>
<text x="472.1" y="741.5" font-size="10.6" fill="#000" stroke="#000" stroke-width="0.15" text-anchor="middle">ART</text>
<text x="496.9" y="741.5" font-size="10.6" fill="#000" stroke="#000" stroke-width="0.15" text-anchor="middle">ART</text>
<text x="496.4" y="752.3" font-size="10.6" fill="#000" stroke="#000" stroke-width="0.15" text-anchor="middle">+IL-15</text>
</svg>
</body></html>
